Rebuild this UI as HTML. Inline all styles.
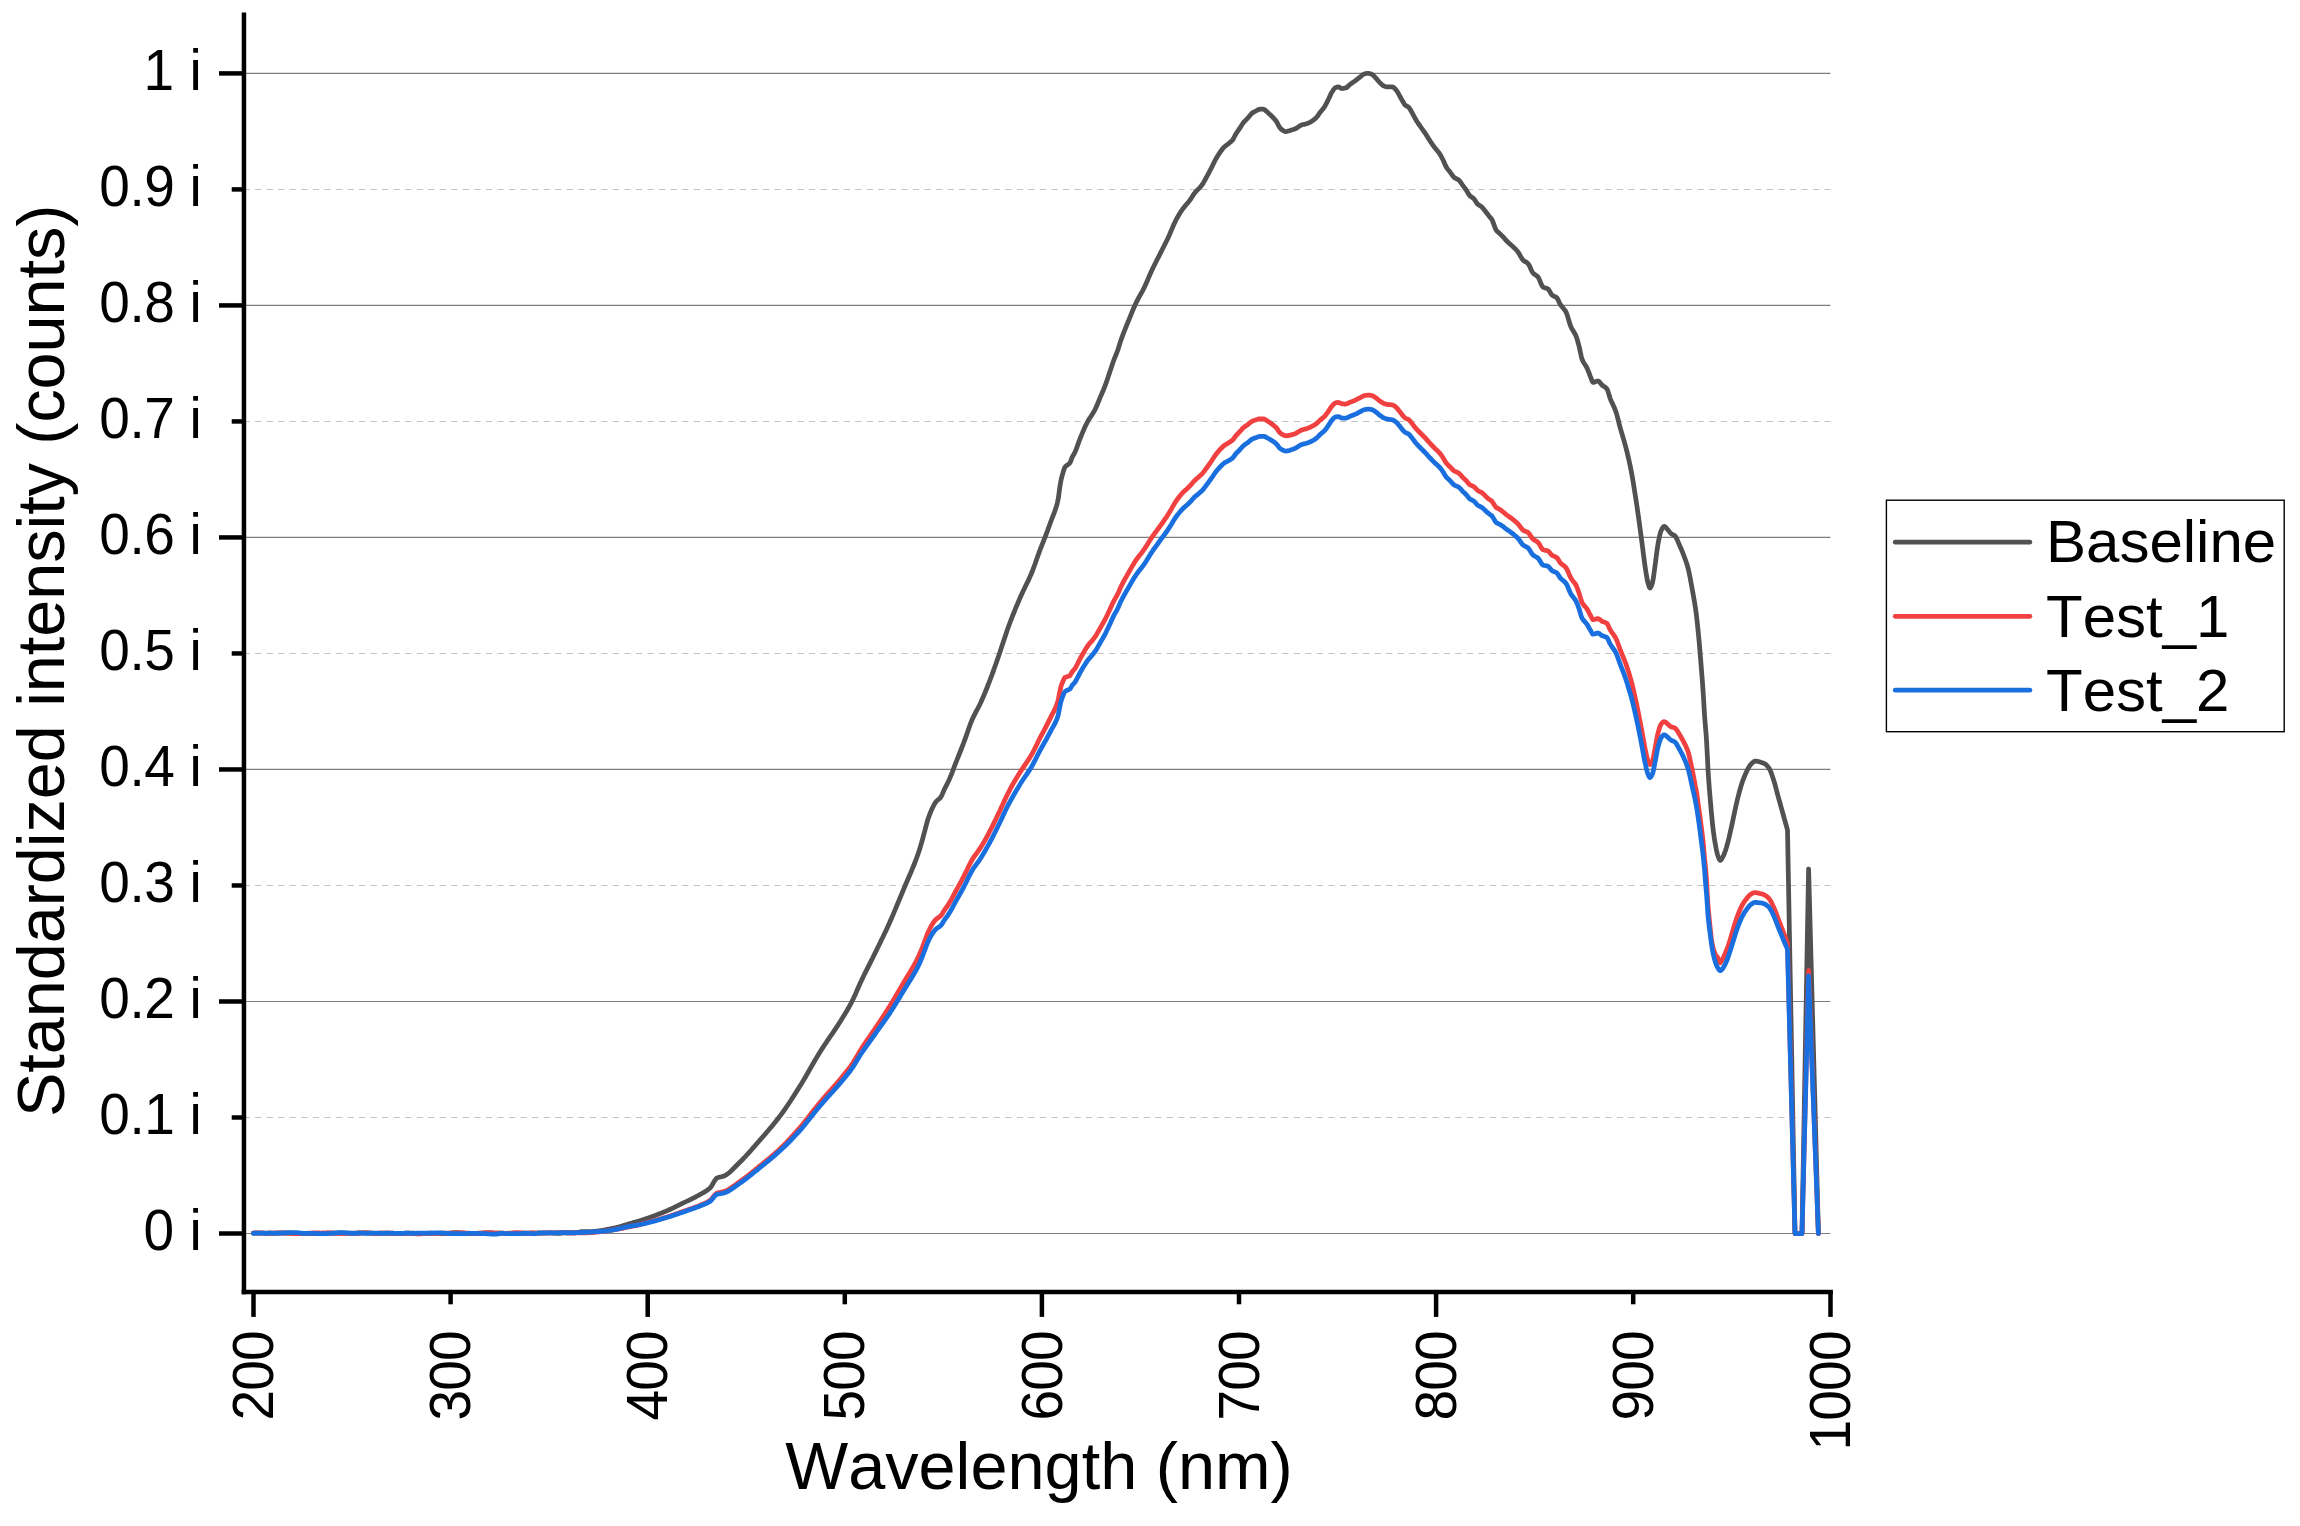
<!DOCTYPE html>
<html lang="en"><head><meta charset="utf-8"><title>Standardized intensity vs Wavelength</title>
<style>html,body{margin:0;padding:0;background:#fff;overflow:hidden;}svg{display:block;}text{font-family:"Liberation Sans",sans-serif;fill:#000;font-kerning:none;font-feature-settings:"kern" 0,"liga" 0;}</style></head><body>
<svg width="2300" height="1526" viewBox="0 0 2300 1526">
<rect width="2300" height="1526" fill="#fff"/>
<g fill="none">
<line x1="246.0" y1="73.40" x2="1830.4" y2="73.40" stroke="#7d7d7d" stroke-width="1.2"/>
<line x1="243.6" y1="189.41" x2="1830.4" y2="189.41" stroke="#c2c2c2" stroke-width="1.05" stroke-dasharray="6.2 5.34"/>
<line x1="246.0" y1="305.42" x2="1830.4" y2="305.42" stroke="#7d7d7d" stroke-width="1.2"/>
<line x1="243.6" y1="421.43" x2="1830.4" y2="421.43" stroke="#c2c2c2" stroke-width="1.05" stroke-dasharray="6.2 5.34"/>
<line x1="246.0" y1="537.44" x2="1830.4" y2="537.44" stroke="#7d7d7d" stroke-width="1.2"/>
<line x1="243.6" y1="653.45" x2="1830.4" y2="653.45" stroke="#c2c2c2" stroke-width="1.05" stroke-dasharray="6.2 5.34"/>
<line x1="246.0" y1="769.46" x2="1830.4" y2="769.46" stroke="#7d7d7d" stroke-width="1.2"/>
<line x1="243.6" y1="885.47" x2="1830.4" y2="885.47" stroke="#c2c2c2" stroke-width="1.05" stroke-dasharray="6.2 5.34"/>
<line x1="246.0" y1="1001.48" x2="1830.4" y2="1001.48" stroke="#7d7d7d" stroke-width="1.2"/>
<line x1="243.6" y1="1117.49" x2="1830.4" y2="1117.49" stroke="#c2c2c2" stroke-width="1.05" stroke-dasharray="6.2 5.34"/>
<line x1="246.0" y1="1233.50" x2="1830.4" y2="1233.50" stroke="#7d7d7d" stroke-width="1.2"/>
</g>
<g fill="none" stroke-width="4.75" stroke-linejoin="round" stroke-linecap="round">
<path stroke="#515151" d="M253.3,1233.2 L254.3,1233.1 L255.3,1233.1 L256.3,1233.1 L257.3,1233.1 L258.3,1233.1 L259.3,1233.1 L260.3,1233.1 L261.3,1233.0 L262.3,1233.0 L263.3,1233.0 L264.3,1233.0 L265.3,1233.0 L266.3,1233.0 L267.3,1233.0 L268.3,1233.0 L269.3,1233.1 L270.3,1233.1 L271.3,1233.2 L272.3,1233.2 L273.3,1233.3 L274.3,1233.3 L275.3,1233.3 L276.3,1233.3 L277.3,1233.2 L278.3,1233.2 L279.3,1233.1 L280.3,1233.1 L281.3,1233.0 L282.3,1232.9 L283.3,1232.9 L284.3,1232.9 L285.3,1232.9 L286.3,1232.9 L287.3,1232.9 L288.3,1233.0 L289.3,1233.1 L290.3,1233.1 L291.3,1233.2 L292.3,1233.3 L293.3,1233.3 L294.3,1233.3 L295.3,1233.4 L296.3,1233.4 L297.3,1233.4 L298.3,1233.5 L299.3,1233.5 L300.0,1233.5 L300.3,1233.4 L301.3,1233.4 L302.3,1233.4 L303.3,1233.4 L304.3,1233.3 L305.3,1233.4 L306.3,1233.4 L307.3,1233.4 L308.3,1233.5 L309.3,1233.5 L310.3,1233.5 L311.3,1233.6 L312.3,1233.6 L313.3,1233.6 L314.3,1233.6 L315.3,1233.6 L316.3,1233.6 L317.3,1233.6 L318.3,1233.5 L319.3,1233.4 L320.3,1233.4 L321.3,1233.3 L322.3,1233.2 L323.3,1233.1 L324.3,1233.1 L325.3,1233.1 L326.3,1233.0 L327.3,1233.0 L328.3,1233.1 L329.3,1233.1 L330.3,1233.1 L331.3,1233.1 L332.3,1233.2 L333.3,1233.2 L334.3,1233.2 L335.3,1233.2 L336.3,1233.2 L337.3,1233.2 L338.3,1233.2 L339.3,1233.2 L340.3,1233.2 L341.3,1233.2 L342.3,1233.2 L343.3,1233.2 L344.3,1233.2 L345.3,1233.1 L346.3,1233.1 L347.3,1233.1 L348.3,1233.1 L349.3,1233.1 L350.0,1233.1 L350.3,1233.1 L351.3,1233.1 L352.3,1233.1 L353.3,1233.1 L354.3,1233.1 L355.3,1233.0 L356.3,1233.0 L357.3,1232.9 L358.3,1232.9 L359.3,1232.9 L360.3,1232.8 L361.3,1232.8 L362.3,1232.8 L363.3,1232.8 L364.3,1232.8 L365.3,1232.8 L366.3,1232.9 L367.3,1232.9 L368.3,1233.0 L369.3,1233.0 L370.3,1233.1 L371.3,1233.2 L372.3,1233.3 L373.3,1233.3 L374.3,1233.4 L375.3,1233.4 L376.3,1233.4 L377.3,1233.4 L378.3,1233.3 L379.3,1233.3 L380.3,1233.2 L381.3,1233.2 L382.3,1233.1 L383.3,1233.1 L384.3,1233.1 L385.3,1233.1 L386.3,1233.1 L387.3,1233.2 L388.3,1233.2 L389.3,1233.3 L390.3,1233.3 L391.3,1233.4 L392.3,1233.4 L393.3,1233.4 L394.3,1233.5 L395.3,1233.5 L396.3,1233.5 L397.3,1233.5 L398.3,1233.4 L399.3,1233.4 L400.0,1233.4 L400.3,1233.4 L401.3,1233.4 L402.3,1233.3 L403.3,1233.3 L404.3,1233.3 L405.3,1233.2 L406.3,1233.2 L407.3,1233.1 L408.3,1233.1 L409.3,1233.0 L410.3,1233.0 L411.3,1233.0 L412.3,1233.1 L413.3,1233.1 L414.3,1233.2 L415.3,1233.3 L416.3,1233.3 L417.3,1233.4 L418.3,1233.4 L419.3,1233.5 L420.3,1233.5 L421.3,1233.5 L422.3,1233.5 L423.3,1233.5 L424.3,1233.4 L425.3,1233.4 L426.3,1233.3 L427.3,1233.3 L428.3,1233.3 L429.3,1233.2 L430.3,1233.2 L431.3,1233.2 L432.3,1233.2 L433.3,1233.3 L434.3,1233.3 L435.3,1233.3 L436.3,1233.4 L437.3,1233.4 L438.3,1233.4 L439.3,1233.5 L440.3,1233.5 L441.3,1233.5 L442.3,1233.5 L443.3,1233.5 L444.3,1233.5 L445.3,1233.5 L446.3,1233.4 L447.3,1233.4 L448.3,1233.3 L449.3,1233.2 L450.0,1233.1 L450.3,1233.0 L451.3,1232.9 L452.3,1232.8 L453.3,1232.7 L454.3,1232.7 L455.3,1232.6 L456.3,1232.6 L457.3,1232.6 L458.3,1232.7 L459.3,1232.8 L460.3,1232.8 L461.3,1232.9 L462.3,1233.0 L463.3,1233.1 L464.3,1233.2 L465.3,1233.3 L466.3,1233.4 L467.3,1233.5 L468.3,1233.5 L469.3,1233.6 L470.3,1233.6 L471.3,1233.6 L472.3,1233.5 L473.3,1233.5 L474.3,1233.4 L475.3,1233.3 L476.3,1233.3 L477.3,1233.3 L478.3,1233.2 L479.3,1233.2 L480.3,1233.2 L481.3,1233.1 L482.3,1233.1 L483.3,1233.0 L484.3,1232.9 L485.3,1232.9 L486.3,1232.8 L487.3,1232.8 L488.3,1232.8 L489.3,1232.8 L490.3,1232.8 L491.3,1232.9 L492.3,1232.9 L493.3,1233.0 L494.3,1233.0 L495.3,1233.0 L496.3,1233.1 L497.3,1233.1 L498.3,1233.1 L499.3,1233.1 L500.0,1233.1 L500.3,1233.2 L501.3,1233.2 L502.3,1233.2 L503.3,1233.3 L504.3,1233.3 L505.3,1233.3 L506.3,1233.3 L507.3,1233.3 L508.3,1233.3 L509.3,1233.3 L510.3,1233.3 L511.3,1233.3 L512.3,1233.4 L513.3,1233.4 L514.3,1233.4 L515.3,1233.4 L516.3,1233.5 L517.3,1233.5 L518.3,1233.4 L519.3,1233.4 L520.3,1233.4 L521.3,1233.3 L522.3,1233.3 L523.3,1233.2 L524.3,1233.2 L525.3,1233.1 L526.3,1233.1 L527.3,1233.1 L528.3,1233.1 L529.3,1233.1 L530.3,1233.1 L531.3,1233.1 L532.3,1233.1 L533.3,1233.1 L534.3,1233.0 L535.3,1233.0 L536.3,1233.0 L537.3,1233.0 L538.3,1232.9 L539.3,1232.9 L540.0,1232.9 L540.3,1233.0 L541.3,1233.0 L542.3,1233.0 L543.3,1233.0 L544.3,1233.0 L545.3,1233.0 L546.3,1233.0 L547.3,1233.0 L548.3,1232.9 L549.3,1232.9 L550.3,1232.9 L551.3,1232.9 L552.3,1233.0 L553.3,1233.0 L554.3,1233.1 L555.3,1233.1 L556.3,1233.2 L557.3,1233.3 L558.3,1233.3 L559.3,1233.3 L560.0,1233.3 L560.3,1233.3 L561.3,1233.2 L562.3,1233.1 L563.3,1233.0 L564.3,1232.9 L565.3,1232.8 L566.3,1232.7 L567.3,1232.7 L568.3,1232.6 L569.3,1232.7 L570.3,1232.7 L571.3,1232.7 L572.3,1232.7 L573.3,1232.7 L574.3,1232.7 L575.3,1232.6 L576.3,1232.6 L577.3,1232.4 L578.3,1232.3 L579.3,1232.1 L580.0,1232.0 L580.3,1231.8 L581.3,1231.7 L582.3,1231.6 L583.3,1231.5 L584.3,1231.5 L585.3,1231.5 L586.3,1231.6 L587.3,1231.6 L588.3,1231.6 L589.3,1231.6 L590.3,1231.6 L591.3,1231.6 L592.3,1231.5 L593.3,1231.5 L594.3,1231.4 L595.3,1231.3 L596.3,1231.2 L597.3,1231.1 L598.3,1231.0 L599.3,1230.8 L600.0,1230.7 L600.3,1230.7 L601.3,1230.5 L602.3,1230.3 L603.3,1230.2 L604.3,1230.0 L605.3,1229.8 L606.3,1229.6 L607.3,1229.4 L608.3,1229.2 L609.3,1229.0 L610.3,1228.8 L611.3,1228.6 L612.3,1228.4 L613.3,1228.2 L614.3,1228.0 L615.3,1227.8 L616.3,1227.6 L617.3,1227.3 L618.3,1227.1 L619.3,1226.8 L620.0,1226.6 L620.3,1226.5 L621.3,1226.2 L622.3,1225.9 L623.3,1225.6 L624.3,1225.3 L625.3,1225.0 L626.3,1224.7 L627.3,1224.4 L628.3,1224.1 L629.3,1223.8 L630.3,1223.5 L631.3,1223.2 L632.3,1222.9 L633.3,1222.6 L634.0,1222.4 L634.3,1222.3 L635.3,1222.1 L636.3,1221.8 L637.3,1221.5 L638.3,1221.2 L639.3,1220.9 L640.3,1220.6 L641.3,1220.3 L642.3,1219.9 L643.3,1219.6 L644.3,1219.3 L645.3,1218.9 L646.3,1218.6 L647.3,1218.2 L648.0,1218.0 L648.3,1217.9 L649.3,1217.6 L650.3,1217.2 L651.3,1216.9 L652.3,1216.5 L653.3,1216.1 L654.3,1215.7 L655.3,1215.4 L656.3,1215.0 L657.3,1214.6 L658.3,1214.2 L659.3,1213.8 L660.3,1213.5 L661.3,1213.1 L662.3,1212.7 L663.3,1212.3 L664.0,1212.0 L664.3,1211.9 L665.3,1211.5 L666.3,1211.1 L667.3,1210.6 L668.3,1210.2 L669.3,1209.7 L670.3,1209.3 L671.3,1208.8 L672.3,1208.3 L673.3,1207.9 L674.3,1207.4 L675.3,1206.9 L676.3,1206.4 L677.3,1205.9 L678.3,1205.4 L679.3,1204.9 L680.0,1204.5 L680.3,1204.4 L681.3,1203.9 L682.3,1203.4 L683.3,1202.9 L684.3,1202.5 L685.3,1202.0 L686.3,1201.5 L687.3,1201.0 L688.3,1200.6 L689.3,1200.1 L690.3,1199.6 L691.3,1199.1 L692.3,1198.6 L693.3,1198.1 L694.3,1197.6 L695.3,1197.1 L696.3,1196.5 L697.3,1196.0 L698.3,1195.5 L699.3,1194.9 L700.0,1194.5 L700.3,1194.3 L701.3,1193.8 L702.3,1193.2 L703.3,1192.7 L704.3,1192.1 L705.3,1191.5 L706.3,1190.9 L707.3,1190.2 L708.3,1189.4 L709.3,1188.6 L710.0,1188.0 L710.3,1187.7 L711.3,1186.4 L712.3,1184.8 L713.3,1183.0 L714.3,1181.2 L715.3,1179.7 L716.3,1178.5 L717.0,1178.0 L717.3,1177.9 L718.3,1177.5 L719.3,1177.2 L720.3,1177.0 L721.3,1176.8 L722.3,1176.5 L723.3,1176.3 L724.0,1176.0 L724.3,1175.9 L725.3,1175.4 L726.3,1174.8 L727.3,1174.1 L728.3,1173.4 L729.3,1172.6 L730.3,1171.7 L731.3,1170.8 L732.3,1169.8 L733.3,1168.8 L734.3,1167.8 L735.3,1166.8 L736.3,1165.8 L737.3,1164.7 L738.3,1163.7 L739.3,1162.7 L740.0,1162.0 L740.3,1161.7 L741.3,1160.7 L742.3,1159.7 L743.3,1158.7 L744.3,1157.6 L745.3,1156.6 L746.3,1155.5 L747.3,1154.4 L748.3,1153.3 L749.3,1152.2 L750.3,1151.1 L751.3,1150.0 L752.3,1148.8 L753.3,1147.7 L754.3,1146.6 L755.3,1145.4 L756.3,1144.3 L757.3,1143.1 L758.3,1142.0 L759.3,1140.8 L760.0,1140.0 L760.3,1139.7 L761.3,1138.5 L762.3,1137.4 L763.3,1136.2 L764.3,1135.1 L765.3,1133.9 L766.3,1132.8 L767.3,1131.6 L768.3,1130.5 L769.3,1129.3 L770.3,1128.1 L771.3,1126.9 L772.3,1125.7 L773.3,1124.5 L774.3,1123.3 L775.3,1122.1 L776.3,1120.8 L777.3,1119.5 L778.3,1118.2 L779.3,1116.9 L780.0,1116.0 L780.3,1115.6 L781.3,1114.2 L782.3,1112.9 L783.3,1111.5 L784.3,1110.1 L785.3,1108.6 L786.3,1107.2 L787.3,1105.7 L788.3,1104.2 L789.3,1102.7 L790.3,1101.2 L791.3,1099.7 L792.3,1098.1 L793.3,1096.6 L794.3,1095.0 L795.3,1093.4 L796.3,1091.9 L797.3,1090.3 L798.3,1088.7 L799.3,1087.1 L800.0,1086.0 L800.3,1085.5 L801.3,1083.9 L802.3,1082.3 L803.3,1080.6 L804.3,1078.9 L805.3,1077.2 L806.3,1075.5 L807.3,1073.7 L808.3,1072.0 L809.3,1070.2 L810.3,1068.5 L811.3,1066.7 L812.3,1065.0 L813.3,1063.3 L814.3,1061.5 L815.3,1059.8 L816.3,1058.1 L817.3,1056.4 L818.3,1054.8 L819.3,1053.1 L820.0,1052.0 L820.3,1051.5 L821.3,1049.9 L822.3,1048.4 L823.3,1046.9 L824.3,1045.3 L825.3,1043.8 L826.3,1042.4 L827.3,1040.9 L828.3,1039.4 L829.3,1037.9 L830.3,1036.5 L831.3,1035.0 L832.3,1033.6 L833.3,1032.1 L834.3,1030.6 L835.3,1029.1 L836.3,1027.6 L837.3,1026.1 L838.3,1024.6 L839.3,1023.0 L840.3,1021.4 L841.2,1020.0 L841.3,1019.8 L842.3,1018.2 L843.3,1016.6 L844.3,1015.0 L845.3,1013.3 L846.3,1011.7 L847.3,1010.0 L848.3,1008.2 L849.3,1006.5 L850.3,1004.6 L851.3,1002.8 L851.7,1002.0 L852.3,1000.8 L853.3,998.8 L854.3,996.6 L855.3,994.4 L856.3,992.1 L857.3,989.8 L858.3,987.6 L859.3,985.3 L860.3,983.0 L861.3,980.9 L861.7,980.0 L862.3,978.7 L863.3,976.7 L864.3,974.6 L865.3,972.6 L866.3,970.6 L867.3,968.6 L868.3,966.6 L869.3,964.6 L870.3,962.6 L871.3,960.7 L872.3,958.7 L873.3,956.7 L874.3,954.6 L875.3,952.6 L875.6,952.0 L876.3,950.6 L877.3,948.5 L878.3,946.5 L879.3,944.4 L880.3,942.4 L881.3,940.3 L882.3,938.3 L883.3,936.2 L884.3,934.1 L885.3,932.0 L886.3,929.9 L887.3,927.7 L888.3,925.5 L889.0,924.0 L889.3,923.3 L890.3,921.1 L891.3,918.8 L892.3,916.4 L893.3,914.1 L894.3,911.7 L895.3,909.3 L896.3,906.9 L897.3,904.5 L898.3,902.1 L899.3,899.7 L900.0,898.0 L900.3,897.3 L901.3,894.9 L902.3,892.5 L903.3,890.1 L904.3,887.7 L905.0,886.0 L905.3,885.3 L906.3,882.9 L907.3,880.6 L908.3,878.3 L909.3,876.0 L910.3,873.7 L911.3,871.3 L912.0,869.6 L912.3,868.9 L913.3,866.5 L914.3,864.0 L915.3,861.5 L916.3,858.9 L916.7,857.8 L917.3,856.1 L918.3,853.2 L919.3,850.2 L920.3,847.0 L920.6,846.0 L921.3,843.6 L922.3,840.1 L923.3,836.4 L924.3,832.7 L924.6,831.6 L925.3,829.0 L926.3,825.1 L927.3,821.4 L927.8,819.8 L928.3,818.3 L929.3,815.4 L930.3,812.8 L931.3,810.4 L931.8,809.3 L932.3,808.2 L933.3,806.2 L934.3,804.3 L935.3,802.7 L935.7,802.1 L936.3,801.4 L937.3,800.4 L938.3,799.6 L939.3,798.7 L940.3,797.7 L940.9,796.9 L941.3,796.3 L942.3,794.2 L943.3,791.8 L944.2,789.7 L944.3,789.5 L945.3,787.5 L946.3,785.6 L947.3,783.7 L948.2,781.8 L948.3,781.6 L949.3,779.4 L950.3,777.0 L951.3,774.6 L952.1,772.6 L952.3,772.1 L953.3,769.4 L954.0,767.5 L954.3,766.7 L955.3,764.1 L956.3,761.6 L957.3,759.0 L958.3,756.5 L959.3,754.0 L960.3,751.5 L961.3,749.0 L962.3,746.4 L963.3,743.8 L964.0,742.0 L964.3,741.2 L965.3,738.4 L966.3,735.6 L967.3,732.7 L968.3,729.8 L969.3,727.0 L970.3,724.3 L971.3,721.7 L972.0,720.0 L972.3,719.3 L973.3,717.1 L974.3,715.1 L975.3,713.1 L976.3,711.2 L977.3,709.4 L978.3,707.5 L979.3,705.5 L980.3,703.5 L981.0,702.0 L981.3,701.3 L982.3,699.1 L983.3,696.8 L984.3,694.4 L985.3,692.0 L986.3,689.5 L987.3,687.0 L988.3,684.4 L989.3,681.8 L990.0,680.0 L990.3,679.2 L991.3,676.6 L992.3,673.9 L993.3,671.1 L994.3,668.3 L995.3,665.5 L996.3,662.7 L997.3,659.8 L998.3,656.9 L999.3,654.0 L1000.0,652.0 L1000.3,651.1 L1001.3,648.1 L1002.3,645.1 L1003.3,642.0 L1004.3,638.9 L1005.3,635.9 L1006.3,632.9 L1007.3,630.0 L1008.0,628.0 L1008.3,627.2 L1009.3,624.5 L1010.3,621.8 L1011.3,619.2 L1012.3,616.6 L1013.3,614.1 L1014.3,611.6 L1015.3,609.2 L1016.3,606.7 L1017.3,604.3 L1018.3,602.0 L1019.3,599.6 L1020.0,598.0 L1020.3,597.3 L1021.3,595.1 L1022.3,592.9 L1023.3,590.8 L1024.3,588.7 L1025.3,586.6 L1026.3,584.6 L1027.3,582.5 L1028.3,580.4 L1029.3,578.2 L1030.3,576.0 L1031.3,573.7 L1032.0,572.0 L1032.3,571.3 L1033.3,568.7 L1034.3,566.0 L1035.3,563.2 L1036.3,560.3 L1037.3,557.5 L1038.3,554.6 L1039.3,551.9 L1040.0,550.0 L1040.3,549.2 L1041.3,546.7 L1042.3,544.2 L1043.3,541.7 L1044.3,539.2 L1045.0,537.4 L1045.3,536.6 L1046.3,533.9 L1047.3,531.2 L1048.3,528.5 L1049.3,525.7 L1050.3,523.0 L1051.3,520.3 L1051.4,520.0 L1052.3,517.7 L1053.3,515.1 L1054.3,512.6 L1055.3,509.7 L1055.7,508.5 L1056.3,506.6 L1057.3,503.1 L1058.3,498.6 L1059.3,491.0 L1059.6,488.8 L1060.3,484.2 L1061.0,480.3 L1061.3,478.9 L1062.3,475.1 L1062.9,473.1 L1063.3,471.7 L1064.3,468.5 L1064.9,467.2 L1065.3,466.7 L1066.3,465.8 L1067.3,465.1 L1067.5,464.9 L1068.3,464.3 L1069.3,463.5 L1070.1,462.6 L1070.3,462.3 L1071.3,459.6 L1072.1,457.4 L1072.3,457.0 L1073.3,455.2 L1074.3,453.6 L1074.7,452.8 L1075.3,451.4 L1076.3,448.9 L1077.3,446.2 L1078.3,443.4 L1079.3,440.6 L1079.9,439.0 L1080.3,438.0 L1081.3,435.6 L1082.3,433.2 L1082.6,432.5 L1083.3,430.9 L1084.3,428.5 L1085.3,426.3 L1085.8,425.2 L1086.3,424.2 L1087.3,422.2 L1088.3,420.3 L1088.5,420.0 L1089.3,418.7 L1090.3,417.3 L1091.3,415.8 L1091.5,415.5 L1092.3,414.2 L1093.3,412.6 L1094.3,410.9 L1094.8,410.0 L1095.3,409.0 L1096.3,406.8 L1097.3,404.5 L1098.3,402.1 L1099.3,399.6 L1100.3,397.2 L1101.3,394.9 L1102.3,392.5 L1103.3,390.2 L1104.3,387.7 L1105.2,385.4 L1105.3,385.1 L1106.3,382.4 L1107.3,379.5 L1108.3,376.6 L1109.3,373.6 L1110.3,370.6 L1111.3,367.5 L1112.3,364.4 L1113.2,361.8 L1113.3,361.5 L1114.3,358.9 L1115.3,356.4 L1116.3,354.0 L1117.3,351.4 L1117.8,350.0 L1118.3,348.5 L1119.3,345.3 L1120.3,342.1 L1121.0,340.0 L1121.3,339.1 L1122.3,336.4 L1123.3,333.7 L1124.3,331.2 L1125.3,328.7 L1126.3,326.2 L1127.3,323.7 L1128.0,322.0 L1128.3,321.3 L1129.3,318.8 L1130.3,316.3 L1131.3,313.8 L1132.3,311.4 L1133.3,309.0 L1134.3,306.7 L1135.3,304.5 L1136.0,303.0 L1136.3,302.4 L1137.3,300.4 L1138.3,298.5 L1139.3,296.7 L1140.3,294.9 L1141.3,293.1 L1142.3,291.3 L1143.3,289.4 L1144.0,288.0 L1144.3,287.4 L1145.3,285.2 L1146.3,283.0 L1147.3,280.7 L1148.3,278.4 L1149.3,276.0 L1150.3,273.7 L1151.3,271.5 L1152.0,270.0 L1152.3,269.4 L1153.3,267.3 L1154.3,265.3 L1155.3,263.3 L1156.3,261.3 L1157.3,259.3 L1158.3,257.4 L1159.3,255.4 L1160.0,254.0 L1160.3,253.4 L1161.3,251.4 L1162.3,249.5 L1163.3,247.5 L1164.3,245.5 L1165.3,243.5 L1166.3,241.5 L1167.3,239.5 L1168.0,238.0 L1168.3,237.4 L1169.3,235.1 L1170.3,232.8 L1171.3,230.4 L1172.3,228.1 L1173.3,225.7 L1174.3,223.5 L1175.3,221.4 L1176.0,220.0 L1176.3,219.4 L1177.3,217.6 L1178.3,215.8 L1179.3,214.2 L1180.3,212.6 L1181.3,211.0 L1182.0,210.0 L1182.3,209.6 L1183.3,208.2 L1184.3,207.0 L1185.3,205.8 L1186.3,204.6 L1187.3,203.4 L1188.3,202.2 L1189.3,200.9 L1190.0,200.0 L1190.3,199.6 L1191.3,198.1 L1192.3,196.5 L1193.3,194.9 L1194.3,193.5 L1194.6,193.1 L1195.3,192.2 L1196.3,191.1 L1197.3,190.1 L1198.3,189.1 L1199.3,188.1 L1200.3,187.0 L1201.3,185.9 L1201.8,185.2 L1202.3,184.5 L1203.3,182.9 L1204.3,181.1 L1205.3,179.3 L1206.3,177.5 L1206.4,177.3 L1207.3,175.7 L1208.3,173.8 L1209.3,171.9 L1210.3,170.0 L1211.3,168.1 L1211.6,167.5 L1212.3,166.1 L1213.3,164.0 L1214.3,161.9 L1215.3,160.0 L1215.5,159.6 L1216.3,158.2 L1217.3,156.5 L1218.3,154.9 L1219.3,153.4 L1219.5,153.1 L1220.3,151.9 L1221.3,150.5 L1222.3,149.2 L1223.3,147.9 L1224.0,147.2 L1224.3,146.9 L1225.3,146.1 L1226.3,145.3 L1227.3,144.6 L1228.3,143.8 L1228.6,143.6 L1229.3,143.0 L1230.3,142.2 L1231.3,141.4 L1232.3,140.4 L1232.6,140.0 L1233.3,138.9 L1234.3,137.0 L1235.3,135.0 L1235.8,134.1 L1236.3,133.3 L1237.3,131.8 L1238.3,130.4 L1239.3,128.9 L1239.8,128.2 L1240.3,127.4 L1241.3,125.8 L1242.3,124.3 L1243.3,122.8 L1243.7,122.3 L1244.3,121.6 L1245.3,120.6 L1246.3,119.6 L1247.3,118.6 L1247.6,118.3 L1248.3,117.5 L1249.3,116.3 L1250.3,115.0 L1251.3,113.9 L1252.2,113.1 L1252.3,113.0 L1253.3,112.3 L1254.3,111.8 L1255.3,111.2 L1256.2,110.8 L1256.3,110.8 L1257.3,110.2 L1258.3,109.7 L1259.3,109.3 L1260.1,109.2 L1260.3,109.2 L1261.3,109.2 L1262.3,109.2 L1263.3,109.2 L1263.4,109.2 L1264.3,109.5 L1265.3,110.2 L1266.3,111.2 L1267.3,112.1 L1268.3,113.0 L1269.3,113.9 L1270.3,114.8 L1271.3,115.8 L1271.9,116.4 L1272.3,116.8 L1273.3,117.8 L1274.3,118.9 L1275.3,120.0 L1276.3,121.3 L1276.5,121.6 L1277.3,123.0 L1278.3,125.0 L1279.3,126.9 L1279.7,127.5 L1280.3,128.2 L1281.3,129.3 L1282.3,130.0 L1282.4,130.1 L1283.3,130.7 L1284.3,131.2 L1285.3,131.5 L1285.6,131.5 L1286.3,131.5 L1287.3,131.3 L1288.3,131.0 L1289.3,130.7 L1290.2,130.4 L1290.3,130.4 L1291.3,130.1 L1292.3,129.8 L1293.3,129.5 L1294.3,129.1 L1295.2,128.8 L1295.3,128.8 L1296.3,128.3 L1297.3,127.6 L1298.3,126.9 L1299.3,126.2 L1300.3,125.6 L1301.3,125.1 L1301.8,124.9 L1302.3,124.7 L1303.3,124.5 L1304.3,124.3 L1305.3,124.1 L1306.3,123.8 L1307.0,123.6 L1307.3,123.5 L1308.3,123.1 L1309.3,122.6 L1310.3,122.1 L1311.3,121.5 L1312.3,120.9 L1313.3,120.2 L1314.3,119.4 L1315.3,118.6 L1316.2,117.7 L1316.3,117.6 L1317.3,116.4 L1318.3,115.0 L1319.3,113.5 L1320.1,112.4 L1320.3,112.1 L1321.3,110.9 L1322.3,109.7 L1323.3,108.5 L1324.3,107.1 L1324.7,106.5 L1325.3,105.5 L1326.3,103.6 L1327.3,101.6 L1328.3,99.5 L1328.7,98.7 L1329.3,97.4 L1330.3,95.2 L1331.3,93.1 L1331.9,92.1 L1332.3,91.5 L1333.3,89.9 L1334.3,88.6 L1335.2,87.9 L1335.3,87.8 L1336.3,87.4 L1337.3,87.0 L1338.2,86.9 L1338.3,86.9 L1339.3,87.3 L1340.3,87.9 L1341.3,88.4 L1341.8,88.5 L1342.3,88.5 L1343.3,88.4 L1344.3,88.2 L1345.3,88.0 L1345.7,87.9 L1346.3,87.7 L1347.3,87.0 L1348.3,86.0 L1349.3,85.1 L1350.3,84.2 L1351.3,83.5 L1352.3,82.8 L1353.3,82.1 L1354.3,81.5 L1355.3,80.7 L1355.5,80.6 L1356.3,80.0 L1357.3,79.2 L1358.3,78.4 L1359.3,77.6 L1360.3,76.8 L1360.8,76.4 L1361.3,76.0 L1362.3,75.2 L1363.3,74.4 L1364.0,74.1 L1364.3,74.0 L1365.3,73.7 L1366.3,73.5 L1367.3,73.3 L1368.0,73.3 L1368.3,73.3 L1369.3,73.5 L1370.3,73.8 L1371.3,74.1 L1371.9,74.4 L1372.3,74.6 L1373.3,75.4 L1374.3,76.4 L1375.3,77.5 L1375.8,78.0 L1376.3,78.5 L1377.3,79.7 L1378.3,80.9 L1379.3,82.1 L1379.8,82.6 L1380.3,83.1 L1381.3,84.1 L1382.3,85.0 L1383.3,85.7 L1383.7,85.9 L1384.3,86.1 L1385.3,86.5 L1386.3,86.8 L1387.3,86.9 L1387.6,86.9 L1388.3,86.9 L1389.3,86.9 L1390.3,86.9 L1391.3,86.9 L1392.2,86.9 L1392.3,86.9 L1393.3,87.3 L1394.3,88.0 L1395.3,89.1 L1396.2,90.1 L1396.3,90.2 L1397.3,91.6 L1398.3,93.4 L1399.3,95.2 L1399.4,95.4 L1400.3,97.0 L1401.3,98.8 L1402.3,100.6 L1402.7,101.3 L1403.3,102.3 L1404.3,104.0 L1405.3,105.2 L1406.3,105.9 L1407.3,106.4 L1408.3,107.0 L1408.6,107.2 L1409.3,108.0 L1410.3,109.5 L1411.3,111.3 L1411.9,112.4 L1412.3,113.1 L1413.3,115.0 L1414.3,116.9 L1415.3,118.7 L1415.8,119.6 L1416.3,120.4 L1417.3,122.0 L1418.3,123.5 L1419.3,124.9 L1420.3,126.3 L1421.1,127.5 L1421.3,127.8 L1422.3,129.2 L1423.3,130.6 L1424.3,132.0 L1425.3,133.4 L1425.7,134.0 L1426.3,134.9 L1427.3,136.5 L1428.3,138.2 L1429.3,139.8 L1429.8,140.6 L1430.3,141.4 L1431.3,142.8 L1432.3,144.3 L1433.3,145.7 L1434.3,147.1 L1434.4,147.2 L1435.3,148.3 L1436.3,149.5 L1437.3,150.7 L1438.3,151.9 L1439.3,153.2 L1439.7,153.8 L1440.3,154.8 L1441.3,156.6 L1442.3,158.5 L1442.9,159.7 L1443.3,160.5 L1444.3,162.8 L1445.3,165.1 L1446.2,166.9 L1446.3,167.1 L1447.3,168.6 L1448.3,169.9 L1449.3,171.1 L1450.1,172.1 L1450.3,172.4 L1451.3,173.8 L1452.3,175.3 L1453.3,176.6 L1454.1,177.4 L1454.3,177.6 L1455.3,178.2 L1456.3,178.7 L1457.3,179.1 L1458.3,179.7 L1458.7,180.0 L1459.3,180.6 L1460.3,181.8 L1461.3,183.3 L1462.3,184.8 L1462.6,185.2 L1463.3,186.1 L1464.3,187.4 L1465.3,188.7 L1465.9,189.5 L1466.3,190.1 L1467.3,191.8 L1468.3,193.6 L1469.3,195.1 L1469.8,195.7 L1470.3,196.2 L1471.3,196.9 L1472.3,197.5 L1473.3,198.2 L1473.7,198.6 L1474.3,199.3 L1475.3,200.8 L1476.3,202.4 L1477.3,203.8 L1477.7,204.2 L1478.3,204.7 L1479.3,205.3 L1480.3,205.9 L1481.3,206.6 L1481.6,206.8 L1482.3,207.5 L1483.3,208.6 L1484.3,209.9 L1485.3,211.1 L1485.5,211.4 L1486.3,212.4 L1487.3,213.8 L1488.3,215.1 L1489.3,216.4 L1489.5,216.7 L1490.3,217.6 L1491.3,218.7 L1492.1,219.9 L1492.3,220.3 L1493.3,222.9 L1494.1,225.2 L1494.3,225.7 L1495.3,228.4 L1496.0,229.8 L1496.3,230.2 L1497.3,231.4 L1498.3,232.3 L1499.3,233.1 L1499.9,233.7 L1500.3,234.1 L1501.3,235.1 L1502.3,236.1 L1503.2,237.0 L1503.3,237.1 L1504.3,238.3 L1505.3,239.4 L1505.8,240.0 L1506.3,240.5 L1507.3,241.5 L1508.3,242.5 L1509.3,243.4 L1510.3,244.3 L1511.3,245.2 L1512.3,246.1 L1513.3,247.0 L1514.3,247.9 L1515.3,248.9 L1516.3,250.0 L1517.3,251.1 L1518.0,252.0 L1518.3,252.4 L1519.3,254.0 L1520.3,255.8 L1521.3,257.6 L1522.3,259.2 L1523.0,260.0 L1523.3,260.3 L1524.3,261.1 L1525.3,261.7 L1526.3,262.2 L1527.3,263.0 L1528.0,263.6 L1528.3,264.0 L1529.3,265.6 L1530.3,267.8 L1531.3,270.0 L1532.3,272.0 L1533.0,273.0 L1533.3,273.3 L1534.3,274.2 L1535.3,274.9 L1536.3,275.5 L1537.3,276.3 L1538.0,277.0 L1538.3,277.4 L1539.3,279.3 L1540.3,281.8 L1541.3,284.3 L1542.3,286.2 L1543.0,287.0 L1543.3,287.2 L1544.3,287.6 L1545.3,288.0 L1546.3,288.2 L1547.3,288.6 L1548.0,289.0 L1548.3,289.2 L1549.3,290.6 L1550.3,292.4 L1551.3,294.2 L1552.0,295.0 L1552.3,295.2 L1553.3,295.9 L1554.3,296.4 L1555.3,296.8 L1556.3,297.4 L1557.0,298.0 L1557.3,298.4 L1558.3,300.3 L1559.3,302.6 L1560.0,304.0 L1560.3,304.5 L1561.3,305.9 L1562.3,307.0 L1563.3,308.2 L1564.3,309.4 L1565.3,310.8 L1566.0,312.0 L1566.3,312.6 L1567.3,315.3 L1568.3,318.6 L1569.3,322.0 L1570.3,325.2 L1571.0,327.0 L1571.3,327.6 L1572.3,329.5 L1573.3,331.1 L1574.3,332.7 L1575.3,334.5 L1576.0,336.0 L1576.3,336.8 L1577.3,339.8 L1578.3,343.4 L1579.0,346.0 L1579.3,347.2 L1580.3,351.9 L1581.3,356.6 L1582.0,359.0 L1582.3,359.8 L1583.3,361.9 L1584.3,363.5 L1585.3,365.0 L1586.3,366.7 L1587.0,368.0 L1587.3,368.7 L1588.3,371.1 L1589.3,373.7 L1590.3,376.3 L1591.0,378.0 L1591.3,378.8 L1592.3,381.5 L1593.0,382.4 L1593.3,382.4 L1594.3,382.2 L1595.3,381.8 L1596.3,381.4 L1597.3,381.1 L1598.0,381.0 L1598.3,381.0 L1599.3,381.7 L1600.3,382.9 L1601.3,384.3 L1602.0,385.0 L1602.3,385.3 L1603.3,386.0 L1604.3,386.6 L1605.3,387.3 L1606.3,388.2 L1607.0,389.0 L1607.3,389.5 L1608.3,392.3 L1609.3,395.8 L1610.0,398.0 L1610.3,398.8 L1611.3,401.2 L1612.3,403.3 L1613.3,405.4 L1614.3,407.6 L1615.3,410.1 L1616.0,412.0 L1616.3,412.9 L1617.3,416.4 L1618.3,420.3 L1619.3,424.3 L1620.0,427.0 L1620.3,428.1 L1621.3,431.6 L1622.3,434.9 L1623.3,438.3 L1624.3,441.7 L1625.3,445.3 L1626.0,448.0 L1626.3,449.2 L1627.3,453.2 L1628.3,457.4 L1629.3,461.8 L1630.3,466.5 L1631.0,470.0 L1631.3,471.5 L1632.3,477.0 L1633.3,482.9 L1634.3,489.1 L1635.3,495.5 L1636.0,500.0 L1636.3,502.0 L1637.3,508.7 L1638.3,515.7 L1639.3,522.9 L1640.0,528.0 L1640.3,530.2 L1641.3,537.7 L1642.3,545.2 L1642.4,546.0 L1643.3,553.1 L1644.3,561.0 L1645.0,566.0 L1645.3,568.0 L1646.3,574.5 L1647.3,580.1 L1648.0,583.0 L1648.3,584.0 L1649.3,587.1 L1650.0,588.0 L1650.3,587.9 L1651.3,586.2 L1652.3,583.3 L1652.4,583.0 L1653.3,578.5 L1654.3,571.2 L1655.0,566.0 L1655.3,563.9 L1656.3,556.0 L1657.3,548.4 L1658.0,544.0 L1658.3,542.4 L1659.3,537.2 L1660.3,533.0 L1661.0,531.0 L1661.3,530.4 L1662.3,528.3 L1663.3,526.9 L1664.2,526.4 L1664.3,526.4 L1665.3,526.9 L1666.3,527.9 L1667.3,529.2 L1668.0,530.0 L1668.3,530.3 L1669.3,531.6 L1670.3,532.9 L1671.0,533.6 L1671.3,533.8 L1672.3,534.4 L1673.3,534.9 L1674.3,535.4 L1675.0,536.0 L1675.3,536.3 L1676.3,537.9 L1677.3,540.1 L1678.3,542.4 L1679.0,544.0 L1679.3,544.7 L1680.3,546.9 L1681.3,549.2 L1682.3,551.6 L1683.3,554.2 L1684.0,556.0 L1684.3,556.8 L1685.3,559.5 L1686.3,562.3 L1687.3,565.5 L1688.0,568.0 L1688.3,569.2 L1689.3,573.6 L1690.3,578.7 L1691.3,584.2 L1692.0,588.0 L1692.3,589.6 L1693.3,595.1 L1694.3,600.8 L1695.3,607.1 L1696.0,612.0 L1696.3,614.3 L1697.3,622.9 L1698.3,632.7 L1699.0,640.0 L1699.3,643.3 L1700.3,655.2 L1701.0,664.0 L1701.3,667.7 L1702.3,680.4 L1703.0,690.0 L1703.3,694.6 L1704.3,711.4 L1704.6,716.0 L1705.3,724.8 L1706.3,737.0 L1706.5,740.0 L1707.3,755.2 L1708.0,769.5 L1708.3,774.3 L1709.3,788.1 L1710.3,800.0 L1711.3,811.6 L1712.3,822.1 L1712.9,827.5 L1713.3,830.7 L1714.3,838.1 L1715.3,844.3 L1715.6,845.9 L1716.3,849.5 L1717.3,853.9 L1717.8,855.5 L1718.3,856.9 L1719.3,859.4 L1720.2,860.4 L1720.3,860.4 L1721.3,859.6 L1722.3,857.9 L1723.3,856.0 L1724.3,853.8 L1725.3,851.0 L1726.3,847.9 L1727.3,844.5 L1728.3,840.7 L1729.3,836.5 L1730.3,832.0 L1731.3,827.5 L1732.3,823.0 L1733.3,818.3 L1734.3,813.5 L1735.3,808.8 L1736.3,804.2 L1737.3,800.0 L1738.3,796.0 L1739.3,792.1 L1740.3,788.5 L1741.3,785.1 L1741.7,783.9 L1742.3,782.1 L1743.3,779.3 L1744.3,776.7 L1745.3,774.4 L1745.7,773.5 L1746.3,772.2 L1747.3,770.1 L1748.3,768.2 L1749.3,766.4 L1750.3,765.0 L1750.9,764.3 L1751.3,763.9 L1752.3,762.9 L1753.3,762.0 L1754.3,761.4 L1755.3,761.1 L1755.4,761.1 L1756.3,761.2 L1757.3,761.3 L1758.3,761.5 L1759.3,761.8 L1760.0,762.0 L1760.3,762.1 L1761.3,762.4 L1762.3,762.7 L1763.3,763.1 L1764.3,763.5 L1764.6,763.7 L1765.3,764.1 L1766.3,764.9 L1767.3,766.0 L1768.3,767.2 L1769.1,768.3 L1769.3,768.6 L1770.3,770.6 L1771.3,773.1 L1772.3,776.0 L1773.0,778.0 L1773.3,778.9 L1774.3,782.1 L1775.3,785.7 L1776.3,789.5 L1777.3,793.3 L1778.3,797.0 L1778.7,798.5 L1779.3,800.7 L1780.3,804.2 L1781.3,807.8 L1782.3,811.4 L1783.3,815.0 L1784.0,817.5 L1784.3,818.6 L1785.3,822.1 L1786.3,825.7 L1787.3,829.3 L1787.5,830.0 L1795.0,1233.5 L1802.0,1233.5 L1808.6,869.0 L1818.4,1233.5"/>
<path stroke="#F14040" d="M253.3,1233.0 L254.3,1232.9 L255.3,1232.9 L256.3,1232.9 L257.3,1232.9 L258.3,1232.9 L259.3,1232.9 L260.3,1232.9 L261.3,1233.0 L262.3,1233.1 L263.3,1233.2 L264.3,1233.2 L265.3,1233.3 L266.3,1233.3 L267.3,1233.3 L268.3,1233.3 L269.3,1233.2 L270.3,1233.2 L271.3,1233.1 L272.3,1233.1 L273.3,1233.0 L274.3,1233.0 L275.3,1232.9 L276.3,1232.9 L277.3,1232.8 L278.3,1232.8 L279.3,1232.8 L280.3,1232.9 L281.3,1232.9 L282.3,1233.0 L283.3,1233.0 L284.3,1233.1 L285.3,1233.2 L286.3,1233.3 L287.3,1233.3 L288.3,1233.4 L289.3,1233.4 L290.3,1233.4 L291.3,1233.4 L292.3,1233.4 L293.3,1233.5 L294.3,1233.5 L295.3,1233.5 L296.3,1233.5 L297.3,1233.5 L298.3,1233.5 L299.3,1233.5 L300.0,1233.5 L300.3,1233.4 L301.3,1233.4 L302.3,1233.4 L303.3,1233.4 L304.3,1233.4 L305.3,1233.3 L306.3,1233.3 L307.3,1233.3 L308.3,1233.2 L309.3,1233.2 L310.3,1233.1 L311.3,1233.0 L312.3,1233.0 L313.3,1232.9 L314.3,1232.9 L315.3,1232.9 L316.3,1232.8 L317.3,1232.9 L318.3,1232.9 L319.3,1232.9 L320.3,1233.0 L321.3,1233.0 L322.3,1233.0 L323.3,1233.0 L324.3,1233.0 L325.3,1233.0 L326.3,1233.0 L327.3,1232.9 L328.3,1232.9 L329.3,1232.9 L330.3,1232.9 L331.3,1233.0 L332.3,1233.0 L333.3,1233.1 L334.3,1233.2 L335.3,1233.2 L336.3,1233.3 L337.3,1233.4 L338.3,1233.4 L339.3,1233.4 L340.3,1233.4 L341.3,1233.5 L342.3,1233.5 L343.3,1233.4 L344.3,1233.4 L345.3,1233.4 L346.3,1233.4 L347.3,1233.3 L348.3,1233.3 L349.3,1233.3 L350.0,1233.3 L350.3,1233.3 L351.3,1233.3 L352.3,1233.3 L353.3,1233.4 L354.3,1233.4 L355.3,1233.4 L356.3,1233.4 L357.3,1233.4 L358.3,1233.3 L359.3,1233.2 L360.3,1233.1 L361.3,1233.0 L362.3,1232.9 L363.3,1232.9 L364.3,1232.8 L365.3,1232.8 L366.3,1232.8 L367.3,1232.9 L368.3,1232.9 L369.3,1233.0 L370.3,1233.1 L371.3,1233.1 L372.3,1233.2 L373.3,1233.3 L374.3,1233.3 L375.3,1233.3 L376.3,1233.3 L377.3,1233.3 L378.3,1233.3 L379.3,1233.2 L380.3,1233.2 L381.3,1233.1 L382.3,1233.1 L383.3,1233.1 L384.3,1233.1 L385.3,1233.1 L386.3,1233.1 L387.3,1233.1 L388.3,1233.1 L389.3,1233.1 L390.3,1233.1 L391.3,1233.2 L392.3,1233.2 L393.3,1233.3 L394.3,1233.4 L395.3,1233.5 L396.3,1233.6 L397.3,1233.6 L398.3,1233.7 L399.3,1233.6 L400.0,1233.6 L400.3,1233.6 L401.3,1233.5 L402.3,1233.5 L403.3,1233.4 L404.3,1233.4 L405.3,1233.4 L406.3,1233.4 L407.3,1233.4 L408.3,1233.4 L409.3,1233.4 L410.3,1233.4 L411.3,1233.4 L412.3,1233.4 L413.3,1233.5 L414.3,1233.6 L415.3,1233.7 L416.3,1233.8 L417.3,1233.8 L418.3,1233.8 L419.3,1233.8 L420.3,1233.8 L421.3,1233.7 L422.3,1233.6 L423.3,1233.5 L424.3,1233.4 L425.3,1233.4 L426.3,1233.4 L427.3,1233.4 L428.3,1233.4 L429.3,1233.4 L430.3,1233.4 L431.3,1233.4 L432.3,1233.4 L433.3,1233.4 L434.3,1233.4 L435.3,1233.4 L436.3,1233.3 L437.3,1233.3 L438.3,1233.3 L439.3,1233.3 L440.3,1233.3 L441.3,1233.2 L442.3,1233.2 L443.3,1233.2 L444.3,1233.2 L445.3,1233.2 L446.3,1233.2 L447.3,1233.3 L448.3,1233.2 L449.3,1233.2 L450.0,1233.2 L450.3,1233.2 L451.3,1233.2 L452.3,1233.2 L453.3,1233.2 L454.3,1233.1 L455.3,1233.1 L456.3,1233.0 L457.3,1232.9 L458.3,1232.9 L459.3,1232.8 L460.3,1232.8 L461.3,1232.8 L462.3,1232.8 L463.3,1232.8 L464.3,1232.9 L465.3,1233.0 L466.3,1233.0 L467.3,1233.1 L468.3,1233.2 L469.3,1233.2 L470.3,1233.3 L471.3,1233.3 L472.3,1233.4 L473.3,1233.4 L474.3,1233.4 L475.3,1233.5 L476.3,1233.5 L477.3,1233.5 L478.3,1233.5 L479.3,1233.4 L480.3,1233.3 L481.3,1233.2 L482.3,1233.1 L483.3,1232.9 L484.3,1232.8 L485.3,1232.8 L486.3,1232.7 L487.3,1232.7 L488.3,1232.6 L489.3,1232.7 L490.3,1232.7 L491.3,1232.8 L492.3,1232.9 L493.3,1233.0 L494.3,1233.0 L495.3,1233.1 L496.3,1233.2 L497.3,1233.2 L498.3,1233.2 L499.3,1233.2 L500.0,1233.2 L500.3,1233.2 L501.3,1233.2 L502.3,1233.2 L503.3,1233.2 L504.3,1233.3 L505.3,1233.3 L506.3,1233.3 L507.3,1233.3 L508.3,1233.2 L509.3,1233.2 L510.3,1233.1 L511.3,1233.0 L512.3,1232.9 L513.3,1232.8 L514.3,1232.7 L515.3,1232.6 L516.3,1232.6 L517.3,1232.5 L518.3,1232.6 L519.3,1232.6 L520.3,1232.7 L521.3,1232.8 L522.3,1232.9 L523.3,1233.0 L524.3,1233.1 L525.3,1233.2 L526.3,1233.2 L527.3,1233.2 L528.3,1233.1 L529.3,1233.1 L530.3,1233.0 L531.3,1232.9 L532.3,1232.9 L533.3,1232.9 L534.3,1232.9 L535.3,1233.0 L536.3,1233.0 L537.3,1233.0 L538.3,1233.1 L539.3,1233.1 L540.0,1233.1 L540.3,1233.0 L541.3,1233.0 L542.3,1233.0 L543.3,1232.9 L544.3,1232.9 L545.3,1232.9 L546.3,1232.9 L547.3,1232.9 L548.3,1232.9 L549.3,1232.9 L550.3,1232.9 L551.3,1232.9 L552.3,1232.9 L553.3,1232.9 L554.3,1232.8 L555.3,1232.8 L556.3,1232.7 L557.3,1232.7 L558.3,1232.6 L559.3,1232.6 L560.0,1232.5 L560.3,1232.6 L561.3,1232.6 L562.3,1232.6 L563.3,1232.7 L564.3,1232.7 L565.3,1232.8 L566.3,1232.9 L567.3,1233.0 L568.3,1233.0 L569.3,1233.0 L570.3,1233.1 L571.3,1233.1 L572.3,1233.1 L573.3,1233.0 L574.3,1233.0 L575.3,1233.0 L576.3,1232.9 L577.3,1232.9 L578.3,1232.9 L579.3,1232.8 L580.0,1232.8 L580.3,1232.8 L581.3,1232.8 L582.3,1232.8 L583.3,1232.8 L584.3,1232.8 L585.3,1232.8 L586.3,1232.8 L587.3,1232.8 L588.3,1232.7 L589.3,1232.7 L590.3,1232.7 L591.3,1232.6 L592.3,1232.6 L593.3,1232.5 L594.3,1232.4 L595.3,1232.3 L596.3,1232.1 L597.3,1232.0 L598.3,1231.9 L599.3,1231.8 L600.0,1231.7 L600.3,1231.6 L601.3,1231.5 L602.3,1231.4 L603.3,1231.3 L604.3,1231.2 L605.3,1231.1 L606.3,1230.9 L607.3,1230.8 L608.3,1230.6 L609.3,1230.5 L610.3,1230.3 L611.3,1230.1 L612.3,1230.0 L613.3,1229.8 L614.3,1229.6 L615.3,1229.5 L616.3,1229.3 L617.3,1229.1 L618.3,1229.0 L619.3,1228.8 L620.0,1228.7 L620.3,1228.6 L621.3,1228.5 L622.3,1228.3 L623.3,1228.1 L624.3,1227.8 L625.3,1227.6 L626.3,1227.4 L627.3,1227.2 L628.3,1227.0 L629.3,1226.8 L630.3,1226.6 L631.3,1226.4 L632.3,1226.2 L633.3,1226.0 L634.0,1225.9 L634.3,1225.9 L635.3,1225.6 L636.3,1225.4 L637.3,1225.1 L638.3,1224.9 L639.3,1224.6 L640.3,1224.3 L641.3,1224.0 L642.3,1223.7 L643.3,1223.5 L644.3,1223.2 L645.3,1222.9 L646.3,1222.7 L647.3,1222.4 L648.0,1222.2 L648.3,1222.2 L649.3,1221.9 L650.3,1221.7 L651.3,1221.4 L652.3,1221.2 L653.3,1220.9 L654.3,1220.7 L655.3,1220.4 L656.3,1220.1 L657.3,1219.8 L658.3,1219.5 L659.3,1219.3 L660.3,1219.0 L661.3,1218.7 L662.3,1218.4 L663.3,1218.1 L664.0,1217.9 L664.3,1217.8 L665.3,1217.5 L666.3,1217.2 L667.3,1216.9 L668.3,1216.6 L669.3,1216.2 L670.3,1215.9 L671.3,1215.6 L672.3,1215.2 L673.3,1214.9 L674.3,1214.5 L675.3,1214.2 L676.3,1213.8 L677.3,1213.5 L678.3,1213.1 L679.3,1212.7 L680.0,1212.5 L680.3,1212.4 L681.3,1212.0 L682.3,1211.7 L683.3,1211.3 L684.3,1211.0 L685.3,1210.7 L686.3,1210.3 L687.3,1210.0 L688.3,1209.6 L689.3,1209.3 L690.3,1208.9 L691.3,1208.6 L692.3,1208.2 L693.3,1207.9 L694.3,1207.5 L695.3,1207.1 L696.3,1206.7 L697.3,1206.4 L698.3,1206.0 L699.3,1205.6 L700.0,1205.3 L700.3,1205.1 L701.3,1204.7 L702.3,1204.3 L703.3,1203.9 L704.3,1203.5 L705.3,1203.0 L706.3,1202.6 L707.3,1202.1 L708.3,1201.5 L709.3,1200.9 L710.0,1200.5 L710.3,1200.2 L711.3,1199.3 L712.3,1198.1 L713.3,1196.8 L714.3,1195.5 L715.3,1194.4 L716.3,1193.5 L717.0,1193.1 L717.3,1193.0 L718.3,1192.7 L719.3,1192.5 L720.3,1192.3 L721.3,1192.1 L722.3,1191.9 L723.3,1191.7 L724.0,1191.5 L724.3,1191.4 L725.3,1191.0 L726.3,1190.6 L727.3,1190.1 L728.3,1189.6 L729.3,1189.0 L730.3,1188.4 L731.3,1187.7 L732.3,1187.0 L733.3,1186.3 L734.3,1185.6 L735.3,1184.9 L736.3,1184.1 L737.3,1183.4 L738.3,1182.6 L739.3,1181.9 L740.0,1181.4 L740.3,1181.2 L741.3,1180.5 L742.3,1179.8 L743.3,1179.1 L744.3,1178.3 L745.3,1177.6 L746.3,1176.8 L747.3,1176.1 L748.3,1175.3 L749.3,1174.5 L750.3,1173.7 L751.3,1172.9 L752.3,1172.1 L753.3,1171.3 L754.3,1170.5 L755.3,1169.7 L756.3,1168.9 L757.3,1168.0 L758.3,1167.2 L759.3,1166.4 L760.0,1165.8 L760.3,1165.6 L761.3,1164.8 L762.3,1164.0 L763.3,1163.2 L764.3,1162.4 L765.3,1161.5 L766.3,1160.7 L767.3,1159.9 L768.3,1159.1 L769.3,1158.3 L770.3,1157.4 L771.3,1156.6 L772.3,1155.7 L773.3,1154.9 L774.3,1154.0 L775.3,1153.1 L776.3,1152.2 L777.3,1151.3 L778.3,1150.4 L779.3,1149.5 L780.0,1148.8 L780.3,1148.5 L781.3,1147.6 L782.3,1146.6 L783.3,1145.6 L784.3,1144.6 L785.3,1143.6 L786.3,1142.6 L787.3,1141.5 L788.3,1140.4 L789.3,1139.4 L790.3,1138.3 L791.3,1137.2 L792.3,1136.1 L793.3,1135.0 L794.3,1133.9 L795.3,1132.8 L796.3,1131.7 L797.3,1130.5 L798.3,1129.4 L799.3,1128.3 L800.0,1127.5 L800.3,1127.1 L801.3,1125.9 L802.3,1124.7 L803.3,1123.5 L804.3,1122.3 L805.3,1121.0 L806.3,1119.7 L807.3,1118.5 L808.3,1117.2 L809.3,1115.9 L810.3,1114.6 L811.3,1113.3 L812.3,1112.1 L813.3,1110.8 L814.3,1109.5 L815.3,1108.3 L816.3,1107.0 L817.3,1105.8 L818.3,1104.5 L819.3,1103.3 L820.0,1102.5 L820.3,1102.2 L821.3,1101.0 L822.3,1099.8 L823.3,1098.6 L824.3,1097.4 L825.3,1096.3 L826.3,1095.1 L827.3,1094.0 L828.3,1092.9 L829.3,1091.8 L830.3,1090.7 L831.3,1089.5 L832.3,1088.4 L833.3,1087.3 L834.3,1086.2 L835.3,1085.0 L836.3,1083.9 L837.3,1082.7 L838.3,1081.5 L839.3,1080.4 L840.3,1079.2 L841.2,1078.1 L841.3,1078.0 L842.3,1076.7 L843.3,1075.5 L844.3,1074.3 L845.3,1073.1 L846.3,1071.8 L847.3,1070.6 L848.3,1069.3 L849.3,1067.9 L850.3,1066.6 L851.3,1065.2 L851.7,1064.6 L852.3,1063.7 L853.3,1062.2 L854.3,1060.6 L855.3,1059.0 L856.3,1057.3 L857.3,1055.6 L858.3,1053.9 L859.3,1052.2 L860.3,1050.5 L861.3,1048.9 L861.7,1048.3 L862.3,1047.4 L863.3,1045.9 L864.3,1044.4 L865.3,1042.9 L866.3,1041.4 L867.3,1039.9 L868.3,1038.5 L869.3,1037.0 L870.3,1035.6 L871.3,1034.1 L872.3,1032.6 L873.3,1031.2 L874.3,1029.7 L875.3,1028.2 L875.6,1027.7 L876.3,1026.7 L877.3,1025.2 L878.3,1023.7 L879.3,1022.2 L880.3,1020.7 L881.3,1019.2 L882.3,1017.7 L883.3,1016.2 L884.3,1014.7 L885.3,1013.2 L886.3,1011.6 L887.3,1010.1 L888.3,1008.5 L889.0,1007.4 L889.3,1006.9 L890.3,1005.3 L891.3,1003.6 L892.3,1002.0 L893.3,1000.3 L894.3,998.6 L895.3,996.9 L896.3,995.2 L897.3,993.5 L898.3,991.8 L899.3,990.1 L900.0,988.9 L900.3,988.4 L901.3,986.7 L902.3,985.0 L903.3,983.2 L904.3,981.5 L905.0,980.4 L905.3,979.9 L906.3,978.2 L907.3,976.5 L908.3,974.9 L909.3,973.3 L910.3,971.6 L911.3,969.9 L912.0,968.7 L912.3,968.2 L913.3,966.5 L914.3,964.7 L915.3,963.0 L916.3,961.1 L916.7,960.3 L917.3,959.1 L918.3,957.0 L919.3,954.8 L920.3,952.5 L920.6,951.8 L921.3,950.1 L922.3,947.6 L923.3,944.9 L924.3,942.2 L924.6,941.5 L925.3,939.6 L926.3,936.8 L927.3,934.1 L927.8,933.0 L928.3,931.8 L929.3,929.7 L930.3,927.7 L931.3,925.9 L931.8,925.1 L932.3,924.3 L933.3,922.7 L934.3,921.3 L935.3,920.0 L935.7,919.6 L936.3,919.1 L937.3,918.3 L938.3,917.6 L939.3,917.0 L940.3,916.2 L940.9,915.6 L941.3,915.2 L942.3,913.7 L943.3,911.9 L944.2,910.4 L944.3,910.3 L945.3,908.9 L946.3,907.5 L947.3,906.1 L948.2,904.8 L948.3,904.6 L949.3,903.0 L950.3,901.3 L951.3,899.6 L952.1,898.1 L952.3,897.8 L953.3,895.8 L954.0,894.5 L954.3,893.9 L955.3,892.0 L956.3,890.2 L957.3,888.4 L958.3,886.5 L959.3,884.7 L960.3,882.9 L961.3,881.1 L962.3,879.2 L963.3,877.3 L964.0,876.0 L964.3,875.4 L965.3,873.4 L966.3,871.3 L967.3,869.2 L968.3,867.1 L969.3,865.1 L970.3,863.1 L971.3,861.2 L972.0,860.0 L972.3,859.5 L973.3,857.9 L974.3,856.4 L975.3,855.0 L976.3,853.7 L977.3,852.3 L978.3,850.9 L979.3,849.5 L980.3,848.0 L981.0,846.9 L981.3,846.4 L982.3,844.8 L983.3,843.1 L984.3,841.4 L985.3,839.6 L986.3,837.8 L987.3,835.9 L988.3,834.1 L989.3,832.2 L990.0,830.8 L990.3,830.3 L991.3,828.3 L992.3,826.4 L993.3,824.4 L994.3,822.3 L995.3,820.3 L996.3,818.2 L997.3,816.1 L998.3,814.0 L999.3,811.9 L1000.0,810.4 L1000.3,809.8 L1001.3,807.6 L1002.3,805.5 L1003.3,803.3 L1004.3,801.1 L1005.3,798.9 L1006.3,796.8 L1007.3,794.7 L1008.0,793.3 L1008.3,792.7 L1009.3,790.8 L1010.3,788.9 L1011.3,787.0 L1012.3,785.2 L1013.3,783.4 L1014.3,781.7 L1015.3,780.0 L1016.3,778.3 L1017.3,776.7 L1018.3,775.1 L1019.3,773.5 L1020.0,772.4 L1020.3,771.9 L1021.3,770.4 L1022.3,768.9 L1023.3,767.4 L1024.3,765.9 L1025.3,764.4 L1026.3,763.0 L1027.3,761.5 L1028.3,759.9 L1029.3,758.4 L1030.3,756.8 L1031.3,755.1 L1032.0,753.9 L1032.3,753.4 L1033.3,751.5 L1034.3,749.6 L1035.3,747.5 L1036.3,745.5 L1037.3,743.4 L1038.3,741.3 L1039.3,739.3 L1040.0,737.9 L1040.3,737.3 L1041.3,735.5 L1042.3,733.6 L1043.3,731.8 L1044.3,730.0 L1045.0,728.7 L1045.3,728.1 L1046.3,726.1 L1047.3,724.1 L1048.3,722.1 L1049.3,720.1 L1050.3,718.1 L1051.3,716.1 L1051.4,715.9 L1052.3,714.2 L1053.3,712.3 L1054.3,710.4 L1055.3,708.2 L1055.7,707.3 L1056.3,705.8 L1057.3,703.1 L1058.3,699.8 L1059.3,694.2 L1059.6,692.6 L1060.3,689.2 L1061.0,686.3 L1061.3,685.4 L1062.3,682.8 L1062.9,681.4 L1063.3,680.5 L1064.3,678.3 L1064.9,677.5 L1065.3,677.2 L1066.3,676.9 L1067.3,676.6 L1067.5,676.6 L1068.3,676.3 L1069.3,676.0 L1070.1,675.5 L1070.3,675.2 L1071.3,673.4 L1072.1,671.9 L1072.3,671.7 L1073.3,670.5 L1074.3,669.4 L1074.7,668.9 L1075.3,668.0 L1076.3,666.2 L1077.3,664.3 L1078.3,662.2 L1079.3,660.2 L1079.9,659.0 L1080.3,658.3 L1081.3,656.5 L1082.3,654.8 L1082.6,654.3 L1083.3,653.1 L1084.3,651.3 L1085.3,649.6 L1085.8,648.8 L1086.3,648.0 L1087.3,646.5 L1088.3,645.1 L1088.5,644.8 L1089.3,643.8 L1090.3,642.7 L1091.3,641.6 L1091.5,641.3 L1092.3,640.4 L1093.3,639.2 L1094.3,637.9 L1094.8,637.2 L1095.3,636.5 L1096.3,634.9 L1097.3,633.2 L1098.3,631.4 L1099.3,629.6 L1100.3,627.9 L1101.3,626.1 L1102.3,624.4 L1103.3,622.7 L1104.3,620.9 L1105.2,619.2 L1105.3,619.0 L1106.3,617.0 L1107.3,615.0 L1108.3,612.8 L1109.3,610.7 L1110.3,608.5 L1111.3,606.3 L1112.3,604.1 L1113.2,602.2 L1113.3,602.0 L1114.3,600.1 L1115.3,598.3 L1116.3,596.6 L1117.3,594.7 L1117.8,593.7 L1118.3,592.7 L1119.3,590.4 L1120.3,588.0 L1121.0,586.5 L1121.3,585.9 L1122.3,584.0 L1123.3,582.1 L1124.3,580.2 L1125.3,578.4 L1126.3,576.7 L1127.3,574.9 L1128.0,573.7 L1128.3,573.2 L1129.3,571.4 L1130.3,569.6 L1131.3,567.9 L1132.3,566.1 L1133.3,564.5 L1134.3,562.8 L1135.3,561.2 L1136.0,560.2 L1136.3,559.7 L1137.3,558.3 L1138.3,557.0 L1139.3,555.7 L1140.3,554.4 L1141.3,553.2 L1142.3,551.9 L1143.3,550.5 L1144.0,549.5 L1144.3,549.1 L1145.3,547.6 L1146.3,546.1 L1147.3,544.5 L1148.3,542.9 L1149.3,541.3 L1150.3,539.7 L1151.3,538.2 L1152.0,537.1 L1152.3,536.7 L1153.3,535.3 L1154.3,533.9 L1155.3,532.5 L1156.3,531.2 L1157.3,529.8 L1158.3,528.5 L1159.3,527.1 L1160.0,526.1 L1160.3,525.7 L1161.3,524.4 L1162.3,523.0 L1163.3,521.6 L1164.3,520.1 L1165.3,518.7 L1166.3,517.2 L1167.3,515.7 L1168.0,514.6 L1168.3,514.1 L1169.3,512.5 L1170.3,510.8 L1171.3,509.1 L1172.3,507.3 L1173.3,505.6 L1174.3,503.9 L1175.3,502.2 L1176.0,501.2 L1176.3,500.8 L1177.3,499.4 L1178.3,498.0 L1179.3,496.7 L1180.3,495.5 L1181.3,494.3 L1182.0,493.5 L1182.3,493.2 L1183.3,492.1 L1184.3,491.2 L1185.3,490.3 L1186.3,489.4 L1187.3,488.5 L1188.3,487.5 L1189.3,486.6 L1190.0,485.8 L1190.3,485.5 L1191.3,484.4 L1192.3,483.2 L1193.3,482.0 L1194.3,480.9 L1194.6,480.6 L1195.3,480.0 L1196.3,479.1 L1197.3,478.2 L1198.3,477.3 L1199.3,476.4 L1200.3,475.5 L1201.3,474.6 L1201.8,474.1 L1202.3,473.6 L1203.3,472.4 L1204.3,471.1 L1205.3,469.7 L1206.3,468.3 L1206.4,468.2 L1207.3,467.0 L1208.3,465.6 L1209.3,464.2 L1210.3,462.8 L1211.3,461.3 L1211.6,460.9 L1212.3,459.8 L1213.3,458.3 L1214.3,456.7 L1215.3,455.3 L1215.5,455.0 L1216.3,453.9 L1217.3,452.7 L1218.3,451.5 L1219.3,450.3 L1219.5,450.1 L1220.3,449.3 L1221.3,448.2 L1222.3,447.2 L1223.3,446.2 L1224.0,445.7 L1224.3,445.5 L1225.3,444.8 L1226.3,444.2 L1227.3,443.6 L1228.3,443.0 L1228.6,442.8 L1229.3,442.4 L1230.3,441.7 L1231.3,441.0 L1232.3,440.3 L1232.6,440.1 L1233.3,439.3 L1234.3,437.9 L1235.3,436.5 L1235.8,435.8 L1236.3,435.3 L1237.3,434.2 L1238.3,433.2 L1239.3,432.1 L1239.8,431.6 L1240.3,431.1 L1241.3,429.9 L1242.3,428.8 L1243.3,427.8 L1243.7,427.5 L1244.3,427.0 L1245.3,426.3 L1246.3,425.6 L1247.3,425.0 L1247.6,424.8 L1248.3,424.2 L1249.3,423.4 L1250.3,422.5 L1251.3,421.8 L1252.2,421.2 L1252.3,421.2 L1253.3,420.7 L1254.3,420.4 L1255.3,420.0 L1256.2,419.8 L1256.3,419.7 L1257.3,419.4 L1258.3,419.1 L1259.3,418.8 L1260.1,418.8 L1260.3,418.8 L1261.3,418.9 L1262.3,418.8 L1263.3,418.8 L1263.4,418.8 L1264.3,419.0 L1265.3,419.6 L1266.3,420.3 L1267.3,420.9 L1268.3,421.6 L1269.3,422.2 L1270.3,422.9 L1271.3,423.7 L1271.9,424.1 L1272.3,424.4 L1273.3,425.2 L1274.3,426.0 L1275.3,426.8 L1276.3,427.8 L1276.5,428.0 L1277.3,429.0 L1278.3,430.6 L1279.3,432.0 L1279.7,432.4 L1280.3,433.0 L1281.3,433.8 L1282.3,434.4 L1282.4,434.5 L1283.3,434.9 L1284.3,435.4 L1285.3,435.7 L1285.6,435.7 L1286.3,435.8 L1287.3,435.7 L1288.3,435.6 L1289.3,435.4 L1290.2,435.1 L1290.3,435.1 L1291.3,434.9 L1292.3,434.6 L1293.3,434.4 L1294.3,434.0 L1295.2,433.7 L1295.3,433.6 L1296.3,433.1 L1297.3,432.5 L1298.3,431.9 L1299.3,431.3 L1300.3,430.7 L1301.3,430.2 L1301.8,430.0 L1302.3,429.9 L1303.3,429.6 L1304.3,429.3 L1305.3,429.0 L1306.3,428.8 L1307.0,428.5 L1307.3,428.4 L1308.3,428.0 L1309.3,427.6 L1310.3,427.2 L1311.3,426.7 L1312.3,426.2 L1313.3,425.7 L1314.3,425.1 L1315.3,424.4 L1316.2,423.8 L1316.3,423.7 L1317.3,422.9 L1318.3,421.9 L1319.3,420.9 L1320.1,420.1 L1320.3,419.9 L1321.3,419.1 L1322.3,418.3 L1323.3,417.5 L1324.3,416.6 L1324.7,416.2 L1325.3,415.5 L1326.3,414.2 L1327.3,412.8 L1328.3,411.4 L1328.7,410.8 L1329.3,410.0 L1330.3,408.4 L1331.3,406.9 L1331.9,406.2 L1332.3,405.7 L1333.3,404.6 L1334.3,403.6 L1335.2,403.1 L1335.3,403.0 L1336.3,402.7 L1337.3,402.4 L1338.2,402.4 L1338.3,402.4 L1339.3,402.7 L1340.3,403.2 L1341.3,403.7 L1341.8,403.8 L1342.3,403.8 L1343.3,403.9 L1344.3,404.0 L1345.3,404.0 L1345.7,404.0 L1346.3,403.9 L1347.3,403.6 L1348.3,403.1 L1349.3,402.5 L1350.3,402.1 L1351.3,401.7 L1352.3,401.4 L1353.3,401.0 L1354.3,400.6 L1355.3,400.2 L1355.5,400.1 L1356.3,399.7 L1357.3,399.2 L1358.3,398.7 L1359.3,398.2 L1360.3,397.6 L1360.8,397.4 L1361.3,397.1 L1362.3,396.5 L1363.3,396.0 L1364.0,395.8 L1364.3,395.8 L1365.3,395.5 L1366.3,395.3 L1367.3,395.2 L1368.0,395.1 L1368.3,395.1 L1369.3,395.2 L1370.3,395.3 L1371.3,395.5 L1371.9,395.6 L1372.3,395.7 L1373.3,396.2 L1374.3,396.8 L1375.3,397.5 L1375.8,397.8 L1376.3,398.1 L1377.3,398.9 L1378.3,399.8 L1379.3,400.6 L1379.8,401.0 L1380.3,401.3 L1381.3,402.0 L1382.3,402.6 L1383.3,403.2 L1383.7,403.4 L1384.3,403.6 L1385.3,404.0 L1386.3,404.2 L1387.3,404.4 L1387.6,404.5 L1388.3,404.5 L1389.3,404.6 L1390.3,404.7 L1391.3,404.8 L1392.2,404.9 L1392.3,404.9 L1393.3,405.2 L1394.3,405.9 L1395.3,406.7 L1396.2,407.4 L1396.3,407.5 L1397.3,408.5 L1398.3,409.8 L1399.3,411.1 L1399.4,411.2 L1400.3,412.3 L1401.3,413.6 L1402.3,414.9 L1402.7,415.4 L1403.3,416.1 L1404.3,417.2 L1405.3,418.1 L1406.3,418.6 L1407.3,419.0 L1408.3,419.4 L1408.6,419.6 L1409.3,420.1 L1410.3,421.3 L1411.3,422.6 L1411.9,423.3 L1412.3,423.8 L1413.3,425.1 L1414.3,426.5 L1415.3,427.7 L1415.8,428.3 L1416.3,428.9 L1417.3,430.0 L1418.3,431.0 L1419.3,432.0 L1420.3,433.0 L1421.1,433.8 L1421.3,434.0 L1422.3,435.0 L1423.3,436.0 L1424.3,437.0 L1425.3,438.0 L1425.7,438.4 L1426.3,439.1 L1427.3,440.2 L1428.3,441.4 L1429.3,442.5 L1429.8,443.1 L1430.3,443.6 L1431.3,444.7 L1432.3,445.7 L1433.3,446.8 L1434.3,447.8 L1434.4,447.9 L1435.3,448.8 L1436.3,449.7 L1437.3,450.6 L1438.3,451.6 L1439.3,452.6 L1439.7,453.1 L1440.3,453.8 L1441.3,455.2 L1442.3,456.6 L1442.9,457.6 L1443.3,458.2 L1444.3,459.9 L1445.3,461.7 L1446.2,463.0 L1446.3,463.1 L1447.3,464.3 L1448.3,465.2 L1449.3,466.2 L1450.1,466.9 L1450.3,467.1 L1451.3,468.2 L1452.3,469.3 L1453.3,470.3 L1454.1,470.9 L1454.3,471.0 L1455.3,471.5 L1456.3,471.9 L1457.3,472.4 L1458.3,472.9 L1458.7,473.1 L1459.3,473.6 L1460.3,474.6 L1461.3,475.7 L1462.3,476.9 L1462.6,477.2 L1463.3,477.9 L1464.3,478.8 L1465.3,479.7 L1465.9,480.3 L1466.3,480.7 L1467.3,482.0 L1468.3,483.2 L1469.3,484.3 L1469.8,484.7 L1470.3,485.0 L1471.3,485.5 L1472.3,485.8 L1473.3,486.3 L1473.7,486.5 L1474.3,487.0 L1475.3,488.0 L1476.3,489.1 L1477.3,490.1 L1477.7,490.4 L1478.3,490.8 L1479.3,491.3 L1480.3,491.8 L1481.3,492.3 L1481.6,492.5 L1482.3,493.0 L1483.3,493.9 L1484.3,494.9 L1485.3,495.9 L1485.5,496.1 L1486.3,496.9 L1487.3,497.8 L1488.3,498.7 L1489.3,499.4 L1489.5,499.6 L1490.3,500.1 L1491.3,500.7 L1492.1,501.4 L1492.3,501.7 L1493.3,503.2 L1494.1,504.6 L1494.3,504.9 L1495.3,506.5 L1496.0,507.3 L1496.3,507.5 L1497.3,508.2 L1498.3,508.7 L1499.3,509.2 L1499.9,509.5 L1500.3,509.8 L1501.3,510.5 L1502.3,511.3 L1503.2,512.0 L1503.3,512.1 L1504.3,512.9 L1505.3,513.8 L1505.8,514.2 L1506.3,514.6 L1507.3,515.4 L1508.3,516.1 L1509.3,516.8 L1510.3,517.5 L1511.3,518.2 L1512.3,519.0 L1513.3,519.8 L1514.3,520.5 L1515.3,521.4 L1516.3,522.3 L1517.3,523.2 L1518.0,523.9 L1518.3,524.2 L1519.3,525.4 L1520.3,526.8 L1521.3,528.2 L1522.3,529.4 L1523.0,530.0 L1523.3,530.3 L1524.3,530.8 L1525.3,531.2 L1526.3,531.6 L1527.3,532.0 L1528.0,532.4 L1528.3,532.7 L1529.3,533.9 L1530.3,535.4 L1531.3,537.0 L1532.3,538.4 L1533.0,539.1 L1533.3,539.4 L1534.3,540.0 L1535.3,540.6 L1536.3,541.1 L1537.3,541.8 L1538.0,542.4 L1538.3,542.7 L1539.3,544.1 L1540.3,545.9 L1541.3,547.7 L1542.3,549.1 L1543.0,549.7 L1543.3,549.8 L1544.3,550.1 L1545.3,550.3 L1546.3,550.4 L1547.3,550.7 L1548.0,550.9 L1548.3,551.1 L1549.3,552.1 L1550.3,553.4 L1551.3,554.6 L1552.0,555.2 L1552.3,555.4 L1553.3,555.9 L1554.3,556.3 L1555.3,556.8 L1556.3,557.3 L1557.0,557.9 L1557.3,558.1 L1558.3,559.6 L1559.3,561.3 L1560.0,562.3 L1560.3,562.7 L1561.3,563.7 L1562.3,564.6 L1563.3,565.3 L1564.3,566.0 L1565.3,567.0 L1566.0,567.7 L1566.3,568.2 L1567.3,570.0 L1568.3,572.3 L1569.3,574.7 L1570.3,576.9 L1571.0,578.2 L1571.3,578.7 L1572.3,580.1 L1573.3,581.4 L1574.3,582.6 L1575.3,584.0 L1576.0,585.2 L1576.3,585.8 L1577.3,588.2 L1578.3,591.0 L1579.0,593.0 L1579.3,593.9 L1580.3,597.3 L1581.3,600.7 L1582.0,602.5 L1582.3,603.0 L1583.3,604.5 L1584.3,605.8 L1585.3,606.9 L1586.3,608.0 L1587.0,609.0 L1587.3,609.5 L1588.3,611.2 L1589.3,613.2 L1590.3,615.1 L1591.0,616.4 L1591.3,616.9 L1592.3,619.0 L1593.0,619.6 L1593.3,619.6 L1594.3,619.5 L1595.3,619.2 L1596.3,618.9 L1597.3,618.7 L1598.0,618.7 L1598.3,618.7 L1599.3,619.1 L1600.3,619.9 L1601.3,620.8 L1602.0,621.3 L1602.3,621.4 L1603.3,621.8 L1604.3,622.1 L1605.3,622.5 L1606.3,623.0 L1607.0,623.5 L1607.3,623.9 L1608.3,625.7 L1609.3,628.1 L1610.0,629.5 L1610.3,630.0 L1611.3,631.6 L1612.3,633.0 L1613.3,634.3 L1614.3,635.8 L1615.3,637.4 L1616.0,638.7 L1616.3,639.3 L1617.3,641.7 L1618.3,644.5 L1619.3,647.3 L1620.0,649.2 L1620.3,650.0 L1621.3,652.4 L1622.3,654.9 L1623.3,657.3 L1624.3,659.8 L1625.3,662.4 L1626.0,664.3 L1626.3,665.2 L1627.3,668.1 L1628.3,671.2 L1629.3,674.3 L1630.3,677.7 L1631.0,680.2 L1631.3,681.3 L1632.3,685.2 L1633.3,689.4 L1634.3,693.8 L1635.3,698.3 L1636.0,701.4 L1636.3,702.8 L1637.3,707.6 L1638.3,712.5 L1639.3,717.6 L1640.0,721.2 L1640.3,722.7 L1641.3,728.0 L1642.3,733.4 L1642.4,733.9 L1643.3,739.0 L1644.3,744.7 L1645.0,748.3 L1645.3,749.8 L1646.3,754.4 L1647.3,758.6 L1648.0,760.8 L1648.3,761.6 L1649.3,763.9 L1650.0,764.6 L1650.3,764.5 L1651.3,763.3 L1652.3,761.2 L1652.4,761.0 L1653.3,757.7 L1654.3,752.5 L1655.0,748.7 L1655.3,747.2 L1656.3,741.6 L1657.3,736.2 L1658.0,733.1 L1658.3,732.0 L1659.3,728.4 L1660.3,725.6 L1661.0,724.3 L1661.3,723.9 L1662.3,722.6 L1663.3,721.8 L1664.2,721.6 L1664.3,721.6 L1665.3,722.0 L1666.3,722.7 L1667.3,723.7 L1668.0,724.3 L1668.3,724.5 L1669.3,725.5 L1670.3,726.3 L1671.0,726.7 L1671.3,726.9 L1672.3,727.2 L1673.3,727.4 L1674.3,727.8 L1675.0,728.1 L1675.3,728.3 L1676.3,729.4 L1677.3,730.8 L1678.3,732.5 L1679.0,733.7 L1679.3,734.2 L1680.3,735.8 L1681.3,737.5 L1682.3,739.3 L1683.3,741.2 L1684.0,742.5 L1684.3,743.1 L1685.3,745.1 L1686.3,747.3 L1687.3,749.7 L1688.0,751.5 L1688.3,752.4 L1689.3,756.4 L1690.3,760.8 L1691.3,765.6 L1692.0,769.0 L1692.3,770.5 L1693.3,775.3 L1694.3,780.4 L1695.3,785.9 L1696.0,789.3 L1696.3,790.8 L1697.3,796.7 L1698.3,805.4 L1699.0,809.8 L1699.3,811.7 L1700.3,819.1 L1701.0,824.5 L1701.3,826.9 L1702.3,834.7 L1703.0,840.8 L1703.3,843.8 L1704.3,855.6 L1704.6,858.9 L1705.3,865.2 L1706.3,876.7 L1706.5,880.1 L1707.3,893.9 L1708.0,905.0 L1708.3,908.8 L1709.3,919.5 L1710.3,928.9 L1711.3,938.0 L1712.3,944.6 L1712.9,947.2 L1713.3,948.7 L1714.3,951.9 L1715.3,954.3 L1715.6,954.8 L1716.3,955.9 L1717.3,957.0 L1717.8,957.9 L1718.3,959.2 L1719.3,961.6 L1720.2,962.8 L1720.3,962.7 L1721.3,961.4 L1722.3,959.6 L1723.3,957.6 L1724.3,955.6 L1725.3,953.2 L1726.3,950.6 L1727.3,948.3 L1728.3,945.7 L1729.3,942.5 L1730.3,939.2 L1731.3,935.9 L1732.3,932.5 L1733.3,929.0 L1734.3,925.6 L1735.3,922.5 L1736.3,919.4 L1737.3,916.6 L1738.3,913.9 L1739.3,911.4 L1740.3,909.0 L1741.3,906.9 L1741.7,906.1 L1742.3,905.0 L1743.3,903.3 L1744.3,901.7 L1745.3,900.3 L1745.7,899.8 L1746.3,899.1 L1747.3,897.8 L1748.3,896.6 L1749.3,895.5 L1750.3,894.6 L1750.9,894.2 L1751.3,893.9 L1752.3,893.4 L1753.3,892.9 L1754.3,892.6 L1755.3,892.5 L1755.4,892.5 L1756.3,892.7 L1757.3,892.9 L1758.3,893.1 L1759.3,893.3 L1760.0,893.5 L1760.3,893.6 L1761.3,893.8 L1762.3,894.1 L1763.3,894.4 L1764.3,894.9 L1764.6,895.0 L1765.3,895.4 L1766.3,896.1 L1767.3,896.9 L1768.3,897.8 L1769.1,898.6 L1769.3,898.9 L1770.3,900.3 L1771.3,902.1 L1772.3,904.2 L1773.0,905.7 L1773.3,906.3 L1774.3,908.6 L1775.3,911.1 L1776.3,913.7 L1777.3,916.4 L1778.3,919.1 L1778.7,920.1 L1779.3,921.7 L1780.3,924.3 L1781.3,926.8 L1782.3,929.4 L1783.3,932.0 L1784.0,933.8 L1784.3,934.6 L1785.3,937.3 L1786.3,940.0 L1787.3,942.6 L1787.5,943.1 L1795.0,1233.5 L1802.0,1233.5 L1808.6,970.7 L1818.4,1233.5"/>
<path stroke="#1A6FDF" d="M253.3,1233.3 L254.3,1233.3 L255.3,1233.2 L256.3,1233.2 L257.3,1233.1 L258.3,1233.1 L259.3,1233.1 L260.3,1233.1 L261.3,1233.1 L262.3,1233.2 L263.3,1233.2 L264.3,1233.3 L265.3,1233.3 L266.3,1233.3 L267.3,1233.3 L268.3,1233.2 L269.3,1233.2 L270.3,1233.1 L271.3,1233.1 L272.3,1233.1 L273.3,1233.1 L274.3,1233.1 L275.3,1233.1 L276.3,1233.1 L277.3,1233.1 L278.3,1233.2 L279.3,1233.2 L280.3,1233.2 L281.3,1233.1 L282.3,1233.1 L283.3,1233.1 L284.3,1233.0 L285.3,1232.9 L286.3,1232.8 L287.3,1232.8 L288.3,1232.7 L289.3,1232.7 L290.3,1232.7 L291.3,1232.7 L292.3,1232.7 L293.3,1232.7 L294.3,1232.7 L295.3,1232.7 L296.3,1232.7 L297.3,1232.7 L298.3,1232.8 L299.3,1232.8 L300.0,1232.9 L300.3,1233.1 L301.3,1233.2 L302.3,1233.3 L303.3,1233.4 L304.3,1233.4 L305.3,1233.5 L306.3,1233.4 L307.3,1233.4 L308.3,1233.3 L309.3,1233.3 L310.3,1233.3 L311.3,1233.3 L312.3,1233.3 L313.3,1233.3 L314.3,1233.4 L315.3,1233.4 L316.3,1233.5 L317.3,1233.5 L318.3,1233.5 L319.3,1233.5 L320.3,1233.6 L321.3,1233.6 L322.3,1233.6 L323.3,1233.6 L324.3,1233.7 L325.3,1233.7 L326.3,1233.6 L327.3,1233.6 L328.3,1233.5 L329.3,1233.4 L330.3,1233.4 L331.3,1233.3 L332.3,1233.2 L333.3,1233.1 L334.3,1233.1 L335.3,1233.0 L336.3,1232.9 L337.3,1232.8 L338.3,1232.7 L339.3,1232.6 L340.3,1232.6 L341.3,1232.5 L342.3,1232.5 L343.3,1232.6 L344.3,1232.7 L345.3,1232.8 L346.3,1232.9 L347.3,1233.0 L348.3,1233.1 L349.3,1233.2 L350.0,1233.2 L350.3,1233.3 L351.3,1233.3 L352.3,1233.4 L353.3,1233.4 L354.3,1233.3 L355.3,1233.3 L356.3,1233.3 L357.3,1233.2 L358.3,1233.2 L359.3,1233.2 L360.3,1233.2 L361.3,1233.2 L362.3,1233.2 L363.3,1233.2 L364.3,1233.2 L365.3,1233.3 L366.3,1233.3 L367.3,1233.3 L368.3,1233.3 L369.3,1233.2 L370.3,1233.2 L371.3,1233.1 L372.3,1233.1 L373.3,1233.1 L374.3,1233.1 L375.3,1233.1 L376.3,1233.1 L377.3,1233.1 L378.3,1233.2 L379.3,1233.2 L380.3,1233.3 L381.3,1233.3 L382.3,1233.3 L383.3,1233.3 L384.3,1233.3 L385.3,1233.3 L386.3,1233.2 L387.3,1233.2 L388.3,1233.1 L389.3,1233.1 L390.3,1233.1 L391.3,1233.1 L392.3,1233.2 L393.3,1233.2 L394.3,1233.3 L395.3,1233.4 L396.3,1233.4 L397.3,1233.4 L398.3,1233.4 L399.3,1233.4 L400.0,1233.4 L400.3,1233.4 L401.3,1233.3 L402.3,1233.3 L403.3,1233.3 L404.3,1233.3 L405.3,1233.2 L406.3,1233.2 L407.3,1233.2 L408.3,1233.2 L409.3,1233.2 L410.3,1233.3 L411.3,1233.3 L412.3,1233.3 L413.3,1233.3 L414.3,1233.3 L415.3,1233.3 L416.3,1233.3 L417.3,1233.2 L418.3,1233.2 L419.3,1233.1 L420.3,1233.1 L421.3,1233.0 L422.3,1233.0 L423.3,1233.0 L424.3,1233.0 L425.3,1233.0 L426.3,1233.0 L427.3,1233.1 L428.3,1233.1 L429.3,1233.2 L430.3,1233.2 L431.3,1233.1 L432.3,1233.0 L433.3,1233.0 L434.3,1232.9 L435.3,1232.8 L436.3,1232.8 L437.3,1232.8 L438.3,1232.8 L439.3,1232.8 L440.3,1232.9 L441.3,1232.9 L442.3,1233.0 L443.3,1233.1 L444.3,1233.2 L445.3,1233.3 L446.3,1233.3 L447.3,1233.4 L448.3,1233.4 L449.3,1233.4 L450.0,1233.5 L450.3,1233.5 L451.3,1233.5 L452.3,1233.6 L453.3,1233.6 L454.3,1233.6 L455.3,1233.6 L456.3,1233.6 L457.3,1233.6 L458.3,1233.6 L459.3,1233.6 L460.3,1233.6 L461.3,1233.6 L462.3,1233.6 L463.3,1233.6 L464.3,1233.5 L465.3,1233.5 L466.3,1233.5 L467.3,1233.4 L468.3,1233.4 L469.3,1233.3 L470.3,1233.3 L471.3,1233.3 L472.3,1233.3 L473.3,1233.3 L474.3,1233.3 L475.3,1233.3 L476.3,1233.4 L477.3,1233.4 L478.3,1233.5 L479.3,1233.6 L480.3,1233.6 L481.3,1233.7 L482.3,1233.7 L483.3,1233.7 L484.3,1233.7 L485.3,1233.7 L486.3,1233.7 L487.3,1233.8 L488.3,1233.8 L489.3,1233.9 L490.3,1234.0 L491.3,1234.1 L492.3,1234.2 L493.3,1234.2 L494.3,1234.2 L495.3,1234.2 L496.3,1234.1 L497.3,1233.9 L498.3,1233.8 L499.3,1233.6 L500.0,1233.5 L500.3,1233.4 L501.3,1233.3 L502.3,1233.3 L503.3,1233.4 L504.3,1233.4 L505.3,1233.5 L506.3,1233.6 L507.3,1233.7 L508.3,1233.7 L509.3,1233.7 L510.3,1233.7 L511.3,1233.7 L512.3,1233.7 L513.3,1233.6 L514.3,1233.6 L515.3,1233.5 L516.3,1233.5 L517.3,1233.5 L518.3,1233.5 L519.3,1233.5 L520.3,1233.5 L521.3,1233.5 L522.3,1233.4 L523.3,1233.4 L524.3,1233.3 L525.3,1233.3 L526.3,1233.3 L527.3,1233.3 L528.3,1233.4 L529.3,1233.4 L530.3,1233.5 L531.3,1233.6 L532.3,1233.6 L533.3,1233.7 L534.3,1233.6 L535.3,1233.6 L536.3,1233.5 L537.3,1233.4 L538.3,1233.3 L539.3,1233.1 L540.0,1233.0 L540.3,1232.9 L541.3,1232.8 L542.3,1232.8 L543.3,1232.8 L544.3,1232.8 L545.3,1232.8 L546.3,1232.8 L547.3,1232.8 L548.3,1232.9 L549.3,1232.9 L550.3,1232.9 L551.3,1232.9 L552.3,1232.9 L553.3,1232.9 L554.3,1232.9 L555.3,1233.0 L556.3,1232.9 L557.3,1232.9 L558.3,1232.9 L559.3,1232.8 L560.0,1232.7 L560.3,1232.7 L561.3,1232.6 L562.3,1232.6 L563.3,1232.6 L564.3,1232.7 L565.3,1232.7 L566.3,1232.8 L567.3,1232.8 L568.3,1232.8 L569.3,1232.8 L570.3,1232.8 L571.3,1232.8 L572.3,1232.8 L573.3,1232.8 L574.3,1232.8 L575.3,1232.8 L576.3,1232.7 L577.3,1232.7 L578.3,1232.6 L579.3,1232.6 L580.0,1232.5 L580.3,1232.5 L581.3,1232.4 L582.3,1232.4 L583.3,1232.3 L584.3,1232.3 L585.3,1232.3 L586.3,1232.3 L587.3,1232.2 L588.3,1232.2 L589.3,1232.1 L590.3,1232.0 L591.3,1232.0 L592.3,1231.9 L593.3,1231.8 L594.3,1231.8 L595.3,1231.7 L596.3,1231.7 L597.3,1231.6 L598.3,1231.6 L599.3,1231.5 L600.0,1231.4 L600.3,1231.4 L601.3,1231.3 L602.3,1231.2 L603.3,1231.2 L604.3,1231.1 L605.3,1231.0 L606.3,1230.9 L607.3,1230.8 L608.3,1230.7 L609.3,1230.5 L610.3,1230.4 L611.3,1230.2 L612.3,1230.1 L613.3,1229.9 L614.3,1229.7 L615.3,1229.5 L616.3,1229.3 L617.3,1229.1 L618.3,1228.9 L619.3,1228.6 L620.0,1228.5 L620.3,1228.4 L621.3,1228.1 L622.3,1227.9 L623.3,1227.7 L624.3,1227.4 L625.3,1227.2 L626.3,1227.0 L627.3,1226.8 L628.3,1226.6 L629.3,1226.4 L630.3,1226.2 L631.3,1226.1 L632.3,1225.9 L633.3,1225.7 L634.0,1225.6 L634.3,1225.6 L635.3,1225.4 L636.3,1225.2 L637.3,1225.1 L638.3,1224.9 L639.3,1224.7 L640.3,1224.5 L641.3,1224.3 L642.3,1224.1 L643.3,1223.8 L644.3,1223.6 L645.3,1223.4 L646.3,1223.1 L647.3,1222.9 L648.0,1222.7 L648.3,1222.6 L649.3,1222.3 L650.3,1222.1 L651.3,1221.8 L652.3,1221.6 L653.3,1221.3 L654.3,1221.1 L655.3,1220.8 L656.3,1220.6 L657.3,1220.3 L658.3,1220.0 L659.3,1219.7 L660.3,1219.4 L661.3,1219.1 L662.3,1218.8 L663.3,1218.5 L664.0,1218.3 L664.3,1218.2 L665.3,1217.9 L666.3,1217.6 L667.3,1217.3 L668.3,1217.0 L669.3,1216.7 L670.3,1216.4 L671.3,1216.1 L672.3,1215.7 L673.3,1215.4 L674.3,1215.0 L675.3,1214.7 L676.3,1214.4 L677.3,1214.0 L678.3,1213.7 L679.3,1213.4 L680.0,1213.1 L680.3,1213.0 L681.3,1212.7 L682.3,1212.3 L683.3,1212.0 L684.3,1211.7 L685.3,1211.3 L686.3,1211.0 L687.3,1210.6 L688.3,1210.3 L689.3,1209.9 L690.3,1209.6 L691.3,1209.3 L692.3,1208.9 L693.3,1208.5 L694.3,1208.2 L695.3,1207.8 L696.3,1207.4 L697.3,1207.1 L698.3,1206.7 L699.3,1206.3 L700.0,1206.0 L700.3,1205.9 L701.3,1205.5 L702.3,1205.1 L703.3,1204.7 L704.3,1204.3 L705.3,1203.9 L706.3,1203.4 L707.3,1203.0 L708.3,1202.4 L709.3,1201.9 L710.0,1201.4 L710.3,1201.2 L711.3,1200.3 L712.3,1199.1 L713.3,1197.9 L714.3,1196.6 L715.3,1195.5 L716.3,1194.7 L717.0,1194.4 L717.3,1194.3 L718.3,1194.0 L719.3,1193.8 L720.3,1193.7 L721.3,1193.5 L722.3,1193.3 L723.3,1193.1 L724.0,1193.0 L724.3,1192.9 L725.3,1192.5 L726.3,1192.1 L727.3,1191.7 L728.3,1191.1 L729.3,1190.6 L730.3,1189.9 L731.3,1189.3 L732.3,1188.6 L733.3,1187.9 L734.3,1187.2 L735.3,1186.5 L736.3,1185.7 L737.3,1185.0 L738.3,1184.3 L739.3,1183.6 L740.0,1183.1 L740.3,1182.9 L741.3,1182.2 L742.3,1181.5 L743.3,1180.8 L744.3,1180.0 L745.3,1179.3 L746.3,1178.5 L747.3,1177.8 L748.3,1177.0 L749.3,1176.2 L750.3,1175.4 L751.3,1174.6 L752.3,1173.8 L753.3,1173.0 L754.3,1172.2 L755.3,1171.4 L756.3,1170.6 L757.3,1169.8 L758.3,1169.0 L759.3,1168.1 L760.0,1167.6 L760.3,1167.3 L761.3,1166.5 L762.3,1165.7 L763.3,1164.9 L764.3,1164.1 L765.3,1163.3 L766.3,1162.5 L767.3,1161.7 L768.3,1160.9 L769.3,1160.0 L770.3,1159.2 L771.3,1158.4 L772.3,1157.5 L773.3,1156.7 L774.3,1155.8 L775.3,1154.9 L776.3,1154.0 L777.3,1153.1 L778.3,1152.2 L779.3,1151.3 L780.0,1150.7 L780.3,1150.4 L781.3,1149.5 L782.3,1148.6 L783.3,1147.6 L784.3,1146.7 L785.3,1145.7 L786.3,1144.7 L787.3,1143.7 L788.3,1142.7 L789.3,1141.7 L790.3,1140.7 L791.3,1139.7 L792.3,1138.6 L793.3,1137.6 L794.3,1136.5 L795.3,1135.4 L796.3,1134.4 L797.3,1133.3 L798.3,1132.2 L799.3,1131.2 L800.0,1130.4 L800.3,1130.1 L801.3,1128.9 L802.3,1127.7 L803.3,1126.5 L804.3,1125.3 L805.3,1124.0 L806.3,1122.8 L807.3,1121.5 L808.3,1120.3 L809.3,1119.0 L810.3,1117.8 L811.3,1116.5 L812.3,1115.2 L813.3,1114.0 L814.3,1112.7 L815.3,1111.5 L816.3,1110.3 L817.3,1109.0 L818.3,1107.8 L819.3,1106.7 L820.0,1105.9 L820.3,1105.5 L821.3,1104.3 L822.3,1103.2 L823.3,1102.0 L824.3,1100.9 L825.3,1099.8 L826.3,1098.6 L827.3,1097.5 L828.3,1096.4 L829.3,1095.3 L830.3,1094.2 L831.3,1093.1 L832.3,1092.1 L833.3,1091.0 L834.3,1089.8 L835.3,1088.7 L836.3,1087.6 L837.3,1086.5 L838.3,1085.3 L839.3,1084.2 L840.3,1083.0 L841.2,1081.9 L841.3,1081.8 L842.3,1080.6 L843.3,1079.4 L844.3,1078.2 L845.3,1077.0 L846.3,1075.8 L847.3,1074.6 L848.3,1073.3 L849.3,1072.0 L850.3,1070.7 L851.3,1069.3 L851.7,1068.8 L852.3,1067.9 L853.3,1066.4 L854.3,1064.8 L855.3,1063.2 L856.3,1061.6 L857.3,1059.9 L858.3,1058.3 L859.3,1056.6 L860.3,1055.0 L861.3,1053.5 L861.7,1052.9 L862.3,1052.0 L863.3,1050.5 L864.3,1049.1 L865.3,1047.7 L866.3,1046.3 L867.3,1044.9 L868.3,1043.5 L869.3,1042.1 L870.3,1040.7 L871.3,1039.3 L872.3,1037.9 L873.3,1036.5 L874.3,1035.1 L875.3,1033.7 L875.6,1033.3 L876.3,1032.3 L877.3,1030.8 L878.3,1029.4 L879.3,1028.0 L880.3,1026.6 L881.3,1025.2 L882.3,1023.8 L883.3,1022.5 L884.3,1021.1 L885.3,1019.7 L886.3,1018.2 L887.3,1016.8 L888.3,1015.3 L889.0,1014.3 L889.3,1013.9 L890.3,1012.3 L891.3,1010.8 L892.3,1009.2 L893.3,1007.7 L894.3,1006.1 L895.3,1004.5 L896.3,1002.8 L897.3,1001.2 L898.3,999.5 L899.3,997.9 L900.0,996.7 L900.3,996.2 L901.3,994.6 L902.3,992.9 L903.3,991.3 L904.3,989.6 L905.0,988.5 L905.3,988.0 L906.3,986.4 L907.3,984.8 L908.3,983.2 L909.3,981.6 L910.3,980.0 L911.3,978.3 L912.0,977.2 L912.3,976.7 L913.3,975.0 L914.3,973.3 L915.3,971.6 L916.3,969.8 L916.7,969.0 L917.3,967.9 L918.3,965.9 L919.3,963.8 L920.3,961.5 L920.6,960.8 L921.3,959.1 L922.3,956.6 L923.3,954.0 L924.3,951.3 L924.6,950.6 L925.3,948.7 L926.3,945.9 L927.3,943.3 L927.8,942.1 L928.3,941.1 L929.3,939.0 L930.3,937.1 L931.3,935.4 L931.8,934.6 L932.3,933.8 L933.3,932.3 L934.3,931.0 L935.3,929.8 L935.7,929.4 L936.3,928.8 L937.3,928.1 L938.3,927.4 L939.3,926.8 L940.3,926.0 L940.9,925.5 L941.3,925.0 L942.3,923.5 L943.3,921.8 L944.2,920.4 L944.3,920.2 L945.3,918.8 L946.3,917.4 L947.3,916.1 L948.2,914.8 L948.3,914.6 L949.3,913.0 L950.3,911.4 L951.3,909.6 L952.1,908.2 L952.3,907.9 L953.3,905.9 L954.0,904.6 L954.3,904.0 L955.3,902.2 L956.3,900.4 L957.3,898.6 L958.3,896.8 L959.3,895.0 L960.3,893.3 L961.3,891.5 L962.3,889.7 L963.3,887.8 L964.0,886.5 L964.3,885.9 L965.3,884.0 L966.3,881.9 L967.3,879.8 L968.3,877.8 L969.3,875.7 L970.3,873.8 L971.3,871.9 L972.0,870.7 L972.3,870.2 L973.3,868.6 L974.3,867.2 L975.3,865.7 L976.3,864.4 L977.3,863.0 L978.3,861.7 L979.3,860.3 L980.3,858.8 L981.0,857.7 L981.3,857.2 L982.3,855.6 L983.3,853.9 L984.3,852.2 L985.3,850.5 L986.3,848.7 L987.3,846.9 L988.3,845.1 L989.3,843.3 L990.0,842.0 L990.3,841.5 L991.3,839.6 L992.3,837.7 L993.3,835.7 L994.3,833.7 L995.3,831.7 L996.3,829.7 L997.3,827.7 L998.3,825.6 L999.3,823.6 L1000.0,822.1 L1000.3,821.5 L1001.3,819.4 L1002.3,817.2 L1003.3,815.1 L1004.3,812.9 L1005.3,810.8 L1006.3,808.7 L1007.3,806.7 L1008.0,805.3 L1008.3,804.8 L1009.3,802.9 L1010.3,801.1 L1011.3,799.2 L1012.3,797.5 L1013.3,795.7 L1014.3,794.0 L1015.3,792.3 L1016.3,790.6 L1017.3,788.9 L1018.3,787.3 L1019.3,785.6 L1020.0,784.4 L1020.3,783.9 L1021.3,782.3 L1022.3,780.8 L1023.3,779.3 L1024.3,777.8 L1025.3,776.3 L1026.3,774.9 L1027.3,773.4 L1028.3,771.9 L1029.3,770.4 L1030.3,768.8 L1031.3,767.2 L1032.0,766.0 L1032.3,765.5 L1033.3,763.6 L1034.3,761.7 L1035.3,759.8 L1036.3,757.8 L1037.3,755.7 L1038.3,753.7 L1039.3,751.8 L1040.0,750.5 L1040.3,749.9 L1041.3,748.2 L1042.3,746.4 L1043.3,744.7 L1044.3,742.9 L1045.0,741.7 L1045.3,741.1 L1046.3,739.3 L1047.3,737.4 L1048.3,735.5 L1049.3,733.7 L1050.3,731.8 L1051.3,729.9 L1051.4,729.7 L1052.3,728.1 L1053.3,726.4 L1054.3,724.6 L1055.3,722.7 L1055.7,721.8 L1056.3,720.5 L1057.3,718.1 L1058.3,714.9 L1059.3,709.4 L1059.6,707.7 L1060.3,704.3 L1061.0,701.4 L1061.3,700.4 L1062.3,697.5 L1062.9,695.9 L1063.3,694.9 L1064.3,692.5 L1064.9,691.6 L1065.3,691.3 L1066.3,690.7 L1067.3,690.3 L1067.5,690.2 L1068.3,689.8 L1069.3,689.4 L1070.1,688.8 L1070.3,688.6 L1071.3,686.9 L1072.1,685.4 L1072.3,685.2 L1073.3,684.1 L1074.3,683.0 L1074.7,682.5 L1075.3,681.7 L1076.3,680.0 L1077.3,678.0 L1078.3,676.1 L1079.3,674.1 L1079.9,672.9 L1080.3,672.2 L1081.3,670.5 L1082.3,668.8 L1082.6,668.3 L1083.3,667.1 L1084.3,665.5 L1085.3,663.9 L1085.8,663.1 L1086.3,662.4 L1087.3,660.9 L1088.3,659.6 L1088.5,659.3 L1089.3,658.4 L1090.3,657.3 L1091.3,656.2 L1091.5,655.9 L1092.3,655.0 L1093.3,653.8 L1094.3,652.6 L1094.8,651.9 L1095.3,651.1 L1096.3,649.6 L1097.3,647.9 L1098.3,646.1 L1099.3,644.3 L1100.3,642.5 L1101.3,640.8 L1102.3,639.1 L1103.3,637.3 L1104.3,635.6 L1105.2,633.9 L1105.3,633.7 L1106.3,631.7 L1107.3,629.6 L1108.3,627.5 L1109.3,625.3 L1110.3,623.2 L1111.3,620.9 L1112.3,618.7 L1113.2,616.8 L1113.3,616.6 L1114.3,614.7 L1115.3,612.9 L1116.3,611.2 L1117.3,609.3 L1117.8,608.3 L1118.3,607.2 L1119.3,604.9 L1120.3,602.6 L1121.0,601.1 L1121.3,600.5 L1122.3,598.5 L1123.3,596.6 L1124.3,594.8 L1125.3,593.1 L1126.3,591.3 L1127.3,589.6 L1128.0,588.4 L1128.3,587.9 L1129.3,586.1 L1130.3,584.4 L1131.3,582.6 L1132.3,580.9 L1133.3,579.2 L1134.3,577.6 L1135.3,576.1 L1136.0,575.0 L1136.3,574.6 L1137.3,573.2 L1138.3,571.8 L1139.3,570.6 L1140.3,569.3 L1141.3,568.1 L1142.3,566.8 L1143.3,565.4 L1144.0,564.5 L1144.3,564.0 L1145.3,562.5 L1146.3,560.9 L1147.3,559.3 L1148.3,557.7 L1149.3,556.0 L1150.3,554.4 L1151.3,552.9 L1152.0,551.8 L1152.3,551.4 L1153.3,549.9 L1154.3,548.5 L1155.3,547.1 L1156.3,545.7 L1157.3,544.4 L1158.3,543.0 L1159.3,541.6 L1160.0,540.6 L1160.3,540.2 L1161.3,538.8 L1162.3,537.5 L1163.3,536.1 L1164.3,534.8 L1165.3,533.4 L1166.3,532.0 L1167.3,530.6 L1168.0,529.6 L1168.3,529.2 L1169.3,527.6 L1170.3,526.0 L1171.3,524.4 L1172.3,522.7 L1173.3,521.1 L1174.3,519.4 L1175.3,517.9 L1176.0,516.9 L1176.3,516.5 L1177.3,515.1 L1178.3,513.9 L1179.3,512.6 L1180.3,511.5 L1181.3,510.3 L1182.0,509.6 L1182.3,509.3 L1183.3,508.3 L1184.3,507.3 L1185.3,506.4 L1186.3,505.6 L1187.3,504.7 L1188.3,503.8 L1189.3,502.8 L1190.0,502.1 L1190.3,501.8 L1191.3,500.7 L1192.3,499.5 L1193.3,498.4 L1194.3,497.3 L1194.6,497.0 L1195.3,496.4 L1196.3,495.5 L1197.3,494.8 L1198.3,494.0 L1199.3,493.1 L1200.3,492.2 L1201.3,491.4 L1201.8,490.9 L1202.3,490.4 L1203.3,489.2 L1204.3,487.9 L1205.3,486.6 L1206.3,485.2 L1206.4,485.1 L1207.3,483.9 L1208.3,482.6 L1209.3,481.2 L1210.3,479.8 L1211.3,478.4 L1211.6,478.0 L1212.3,477.0 L1213.3,475.5 L1214.3,474.0 L1215.3,472.5 L1215.5,472.3 L1216.3,471.2 L1217.3,470.0 L1218.3,468.9 L1219.3,467.8 L1219.5,467.6 L1220.3,466.7 L1221.3,465.7 L1222.3,464.7 L1223.3,463.8 L1224.0,463.2 L1224.3,463.0 L1225.3,462.4 L1226.3,461.9 L1227.3,461.3 L1228.3,460.8 L1228.6,460.6 L1229.3,460.2 L1230.3,459.6 L1231.3,459.0 L1232.3,458.3 L1232.6,458.0 L1233.3,457.3 L1234.3,455.9 L1235.3,454.5 L1235.8,453.8 L1236.3,453.3 L1237.3,452.2 L1238.3,451.2 L1239.3,450.2 L1239.8,449.7 L1240.3,449.1 L1241.3,448.0 L1242.3,446.9 L1243.3,445.9 L1243.7,445.5 L1244.3,445.0 L1245.3,444.3 L1246.3,443.6 L1247.3,442.9 L1247.6,442.7 L1248.3,442.2 L1249.3,441.3 L1250.3,440.4 L1251.3,439.7 L1252.2,439.1 L1252.3,439.0 L1253.3,438.6 L1254.3,438.2 L1255.3,437.8 L1256.2,437.5 L1256.3,437.5 L1257.3,437.1 L1258.3,436.8 L1259.3,436.5 L1260.1,436.4 L1260.3,436.4 L1261.3,436.4 L1262.3,436.4 L1263.3,436.3 L1263.4,436.3 L1264.3,436.4 L1265.3,436.8 L1266.3,437.4 L1267.3,438.0 L1268.3,438.5 L1269.3,439.0 L1270.3,439.6 L1271.3,440.2 L1271.9,440.6 L1272.3,440.9 L1273.3,441.5 L1274.3,442.2 L1275.3,443.0 L1276.3,443.9 L1276.5,444.0 L1277.3,445.0 L1278.3,446.4 L1279.3,447.7 L1279.7,448.1 L1280.3,448.6 L1281.3,449.3 L1282.3,449.9 L1282.4,449.9 L1283.3,450.3 L1284.3,450.7 L1285.3,451.0 L1285.6,451.0 L1286.3,451.0 L1287.3,450.9 L1288.3,450.7 L1289.3,450.4 L1290.2,450.1 L1290.3,450.1 L1291.3,449.7 L1292.3,449.4 L1293.3,449.0 L1294.3,448.7 L1295.2,448.3 L1295.3,448.2 L1296.3,447.7 L1297.3,447.1 L1298.3,446.4 L1299.3,445.8 L1300.3,445.2 L1301.3,444.7 L1301.8,444.5 L1302.3,444.4 L1303.3,444.1 L1304.3,443.8 L1305.3,443.6 L1306.3,443.3 L1307.0,443.1 L1307.3,443.0 L1308.3,442.6 L1309.3,442.2 L1310.3,441.8 L1311.3,441.3 L1312.3,440.8 L1313.3,440.3 L1314.3,439.7 L1315.3,439.0 L1316.2,438.4 L1316.3,438.3 L1317.3,437.4 L1318.3,436.4 L1319.3,435.3 L1320.1,434.5 L1320.3,434.3 L1321.3,433.5 L1322.3,432.7 L1323.3,431.9 L1324.3,430.9 L1324.7,430.5 L1325.3,429.8 L1326.3,428.5 L1327.3,427.1 L1328.3,425.5 L1328.7,425.0 L1329.3,424.0 L1330.3,422.4 L1331.3,420.9 L1331.9,420.2 L1332.3,419.7 L1333.3,418.6 L1334.3,417.7 L1335.2,417.2 L1335.3,417.2 L1336.3,416.8 L1337.3,416.6 L1338.2,416.6 L1338.3,416.6 L1339.3,416.9 L1340.3,417.5 L1341.3,417.9 L1341.8,418.0 L1342.3,418.1 L1343.3,418.1 L1344.3,418.2 L1345.3,418.1 L1345.7,418.1 L1346.3,418.0 L1347.3,417.7 L1348.3,417.2 L1349.3,416.6 L1350.3,416.2 L1351.3,415.8 L1352.3,415.4 L1353.3,415.1 L1354.3,414.6 L1355.3,414.2 L1355.5,414.1 L1356.3,413.8 L1357.3,413.3 L1358.3,412.7 L1359.3,412.2 L1360.3,411.6 L1360.8,411.4 L1361.3,411.1 L1362.3,410.5 L1363.3,410.0 L1364.0,409.8 L1364.3,409.7 L1365.3,409.5 L1366.3,409.3 L1367.3,409.2 L1368.0,409.1 L1368.3,409.1 L1369.3,409.2 L1370.3,409.3 L1371.3,409.5 L1371.9,409.6 L1372.3,409.8 L1373.3,410.2 L1374.3,410.9 L1375.3,411.6 L1375.8,411.9 L1376.3,412.3 L1377.3,413.2 L1378.3,414.0 L1379.3,414.9 L1379.8,415.2 L1380.3,415.6 L1381.3,416.3 L1382.3,417.0 L1383.3,417.6 L1383.7,417.8 L1384.3,418.1 L1385.3,418.5 L1386.3,418.9 L1387.3,419.1 L1387.6,419.2 L1388.3,419.3 L1389.3,419.4 L1390.3,419.5 L1391.3,419.7 L1392.2,419.8 L1392.3,419.8 L1393.3,420.2 L1394.3,420.8 L1395.3,421.5 L1396.2,422.2 L1396.3,422.3 L1397.3,423.3 L1398.3,424.5 L1399.3,425.7 L1399.4,425.8 L1400.3,426.9 L1401.3,428.2 L1402.3,429.4 L1402.7,429.9 L1403.3,430.6 L1404.3,431.7 L1405.3,432.5 L1406.3,433.0 L1407.3,433.4 L1408.3,433.8 L1408.6,434.0 L1409.3,434.6 L1410.3,435.8 L1411.3,437.1 L1411.9,437.8 L1412.3,438.3 L1413.3,439.6 L1414.3,441.0 L1415.3,442.3 L1415.8,442.9 L1416.3,443.5 L1417.3,444.6 L1418.3,445.7 L1419.3,446.7 L1420.3,447.7 L1421.1,448.5 L1421.3,448.7 L1422.3,449.7 L1423.3,450.7 L1424.3,451.7 L1425.3,452.7 L1425.7,453.1 L1426.3,453.7 L1427.3,454.9 L1428.3,456.1 L1429.3,457.2 L1429.8,457.8 L1430.3,458.3 L1431.3,459.3 L1432.3,460.4 L1433.3,461.4 L1434.3,462.4 L1434.4,462.5 L1435.3,463.4 L1436.3,464.2 L1437.3,465.1 L1438.3,466.0 L1439.3,467.0 L1439.7,467.4 L1440.3,468.1 L1441.3,469.4 L1442.3,470.8 L1442.9,471.7 L1443.3,472.3 L1444.3,474.0 L1445.3,475.7 L1446.2,477.0 L1446.3,477.1 L1447.3,478.2 L1448.3,479.1 L1449.3,480.0 L1450.1,480.8 L1450.3,481.0 L1451.3,482.1 L1452.3,483.2 L1453.3,484.2 L1454.1,484.9 L1454.3,485.0 L1455.3,485.6 L1456.3,486.0 L1457.3,486.4 L1458.3,486.9 L1458.7,487.2 L1459.3,487.6 L1460.3,488.6 L1461.3,489.7 L1462.3,490.9 L1462.6,491.2 L1463.3,491.9 L1464.3,492.8 L1465.3,493.8 L1465.9,494.4 L1466.3,494.8 L1467.3,496.1 L1468.3,497.3 L1469.3,498.4 L1469.8,498.9 L1470.3,499.2 L1471.3,499.8 L1472.3,500.2 L1473.3,500.8 L1473.7,501.0 L1474.3,501.5 L1475.3,502.6 L1476.3,503.8 L1477.3,504.9 L1477.7,505.2 L1478.3,505.6 L1479.3,506.1 L1480.3,506.6 L1481.3,507.1 L1481.6,507.3 L1482.3,507.8 L1483.3,508.7 L1484.3,509.6 L1485.3,510.5 L1485.5,510.7 L1486.3,511.5 L1487.3,512.4 L1488.3,513.2 L1489.3,514.0 L1489.5,514.2 L1490.3,514.7 L1491.3,515.4 L1492.1,516.1 L1492.3,516.4 L1493.3,518.0 L1494.1,519.5 L1494.3,519.8 L1495.3,521.5 L1496.0,522.3 L1496.3,522.5 L1497.3,523.2 L1498.3,523.7 L1499.3,524.1 L1499.9,524.4 L1500.3,524.6 L1501.3,525.3 L1502.3,526.0 L1503.2,526.6 L1503.3,526.7 L1504.3,527.5 L1505.3,528.3 L1505.8,528.7 L1506.3,529.1 L1507.3,529.8 L1508.3,530.5 L1509.3,531.1 L1510.3,531.9 L1511.3,532.6 L1512.3,533.4 L1513.3,534.2 L1514.3,535.0 L1515.3,535.8 L1516.3,536.7 L1517.3,537.6 L1518.0,538.4 L1518.3,538.7 L1519.3,540.0 L1520.3,541.5 L1521.3,542.9 L1522.3,544.2 L1523.0,544.9 L1523.3,545.1 L1524.3,545.8 L1525.3,546.3 L1526.3,546.8 L1527.3,547.4 L1528.0,547.9 L1528.3,548.2 L1529.3,549.5 L1530.3,551.1 L1531.3,552.8 L1532.3,554.2 L1533.0,555.0 L1533.3,555.2 L1534.3,555.9 L1535.3,556.5 L1536.3,557.0 L1537.3,557.6 L1538.0,558.2 L1538.3,558.5 L1539.3,559.8 L1540.3,561.5 L1541.3,563.2 L1542.3,564.6 L1543.0,565.1 L1543.3,565.2 L1544.3,565.5 L1545.3,565.6 L1546.3,565.8 L1547.3,566.0 L1548.0,566.3 L1548.3,566.4 L1549.3,567.4 L1550.3,568.7 L1551.3,570.0 L1552.0,570.6 L1552.3,570.8 L1553.3,571.3 L1554.3,571.7 L1555.3,572.1 L1556.3,572.6 L1557.0,573.1 L1557.3,573.4 L1558.3,574.8 L1559.3,576.6 L1560.0,577.6 L1560.3,578.0 L1561.3,579.0 L1562.3,579.8 L1563.3,580.7 L1564.3,581.5 L1565.3,582.5 L1566.0,583.4 L1566.3,583.8 L1567.3,585.7 L1568.3,588.1 L1569.3,590.5 L1570.3,592.8 L1571.0,594.2 L1571.3,594.7 L1572.3,596.1 L1573.3,597.3 L1574.3,598.5 L1575.3,599.9 L1576.0,601.1 L1576.3,601.7 L1577.3,604.0 L1578.3,606.7 L1579.0,608.6 L1579.3,609.5 L1580.3,612.9 L1581.3,616.3 L1582.0,618.0 L1582.3,618.5 L1583.3,620.0 L1584.3,621.2 L1585.3,622.3 L1586.3,623.4 L1587.0,624.3 L1587.3,624.8 L1588.3,626.5 L1589.3,628.3 L1590.3,630.1 L1591.0,631.2 L1591.3,631.8 L1592.3,633.7 L1593.0,634.2 L1593.3,634.2 L1594.3,634.0 L1595.3,633.7 L1596.3,633.3 L1597.3,633.1 L1598.0,633.0 L1598.3,633.1 L1599.3,633.5 L1600.3,634.3 L1601.3,635.2 L1602.0,635.6 L1602.3,635.8 L1603.3,636.1 L1604.3,636.4 L1605.3,636.7 L1606.3,637.2 L1607.0,637.7 L1607.3,638.0 L1608.3,639.8 L1609.3,642.2 L1610.0,643.6 L1610.3,644.1 L1611.3,645.7 L1612.3,647.2 L1613.3,648.6 L1614.3,650.0 L1615.3,651.7 L1616.0,653.0 L1616.3,653.6 L1617.3,656.1 L1618.3,658.9 L1619.3,661.8 L1620.0,663.7 L1620.3,664.5 L1621.3,667.1 L1622.3,669.7 L1623.3,672.2 L1624.3,674.8 L1625.3,677.6 L1626.0,679.6 L1626.3,680.6 L1627.3,683.9 L1628.3,687.3 L1629.3,690.4 L1630.3,693.6 L1631.0,696.0 L1631.3,697.1 L1632.3,700.9 L1633.3,705.0 L1634.3,709.3 L1635.3,713.7 L1636.0,716.8 L1636.3,718.1 L1637.3,722.8 L1638.3,727.6 L1639.3,732.6 L1640.0,736.1 L1640.3,737.6 L1641.3,742.8 L1642.3,748.0 L1642.4,748.6 L1643.3,753.5 L1644.3,759.0 L1645.0,762.5 L1645.3,763.8 L1646.3,768.3 L1647.3,772.2 L1648.0,774.2 L1648.3,774.9 L1649.3,777.0 L1650.0,777.6 L1650.3,777.5 L1651.3,776.3 L1652.3,774.3 L1652.4,774.1 L1653.3,771.0 L1654.3,766.0 L1655.0,762.4 L1655.3,760.9 L1656.3,755.5 L1657.3,750.2 L1658.0,747.1 L1658.3,746.0 L1659.3,742.4 L1660.3,739.4 L1661.0,738.0 L1661.3,737.6 L1662.3,736.1 L1663.3,735.1 L1664.2,734.8 L1664.3,734.8 L1665.3,735.2 L1666.3,735.9 L1667.3,736.9 L1668.0,737.5 L1668.3,737.7 L1669.3,738.7 L1670.3,739.6 L1671.0,740.1 L1671.3,740.3 L1672.3,740.8 L1673.3,741.1 L1674.3,741.6 L1675.0,742.1 L1675.3,742.4 L1676.3,743.6 L1677.3,745.3 L1678.3,747.1 L1679.0,748.4 L1679.3,749.0 L1680.3,750.8 L1681.3,752.6 L1682.3,754.6 L1683.3,756.6 L1684.0,758.0 L1684.3,758.8 L1685.3,761.2 L1686.3,763.7 L1687.3,766.5 L1688.0,768.7 L1688.3,769.7 L1689.3,773.5 L1690.3,777.8 L1691.3,782.4 L1692.0,785.7 L1692.3,786.9 L1693.3,791.2 L1694.3,795.6 L1695.3,800.5 L1696.0,804.2 L1696.3,805.8 L1697.3,811.7 L1698.3,818.4 L1699.0,823.4 L1699.3,825.7 L1700.3,833.1 L1701.0,838.6 L1701.3,841.0 L1702.3,848.7 L1703.0,854.3 L1703.3,857.1 L1704.3,867.3 L1704.6,870.0 L1705.3,879.8 L1706.3,891.7 L1706.5,893.9 L1707.3,905.1 L1708.0,915.3 L1708.3,918.5 L1709.3,927.6 L1710.3,935.3 L1711.3,942.7 L1712.3,949.1 L1712.9,952.3 L1713.3,954.2 L1714.3,958.3 L1715.3,961.8 L1715.6,962.8 L1716.3,964.7 L1717.3,967.0 L1717.8,967.8 L1718.3,968.7 L1719.3,970.2 L1720.2,970.7 L1720.3,970.7 L1721.3,970.1 L1722.3,969.0 L1723.3,967.6 L1724.3,966.0 L1725.3,964.0 L1726.3,961.7 L1727.3,959.3 L1728.3,956.6 L1729.3,953.6 L1730.3,950.5 L1731.3,947.3 L1732.3,944.1 L1733.3,940.8 L1734.3,937.5 L1735.3,934.2 L1736.3,931.1 L1737.3,928.3 L1738.3,925.6 L1739.3,923.0 L1740.3,920.6 L1741.3,918.3 L1741.7,917.5 L1742.3,916.3 L1743.3,914.5 L1744.3,912.8 L1745.3,911.3 L1745.7,910.7 L1746.3,909.9 L1747.3,908.5 L1748.3,907.2 L1749.3,905.9 L1750.3,904.9 L1750.9,904.5 L1751.3,904.2 L1752.3,903.5 L1753.3,902.9 L1754.3,902.5 L1755.3,902.3 L1755.4,902.3 L1756.3,902.4 L1757.3,902.6 L1758.3,902.7 L1759.3,902.8 L1760.0,902.9 L1760.3,902.9 L1761.3,903.0 L1762.3,903.2 L1763.3,903.5 L1764.3,903.9 L1764.6,904.0 L1765.3,904.3 L1766.3,905.0 L1767.3,905.7 L1768.3,906.6 L1769.1,907.4 L1769.3,907.6 L1770.3,909.0 L1771.3,910.8 L1772.3,912.8 L1773.0,914.2 L1773.3,914.9 L1774.3,917.1 L1775.3,919.5 L1776.3,922.1 L1777.3,924.8 L1778.3,927.3 L1778.7,928.3 L1779.3,929.8 L1780.3,932.2 L1781.3,934.7 L1782.3,937.1 L1783.3,939.6 L1784.0,941.2 L1784.3,941.9 L1785.3,944.3 L1786.3,946.6 L1787.3,948.9 L1787.5,949.4 L1795.0,1233.5 L1802.0,1233.5 L1808.6,975.9 L1818.4,1233.5"/>
</g>
<g stroke="#000" stroke-width="4.5" fill="none">
<line x1="243.95" y1="12.6" x2="243.95" y2="1294.35"/>
<line x1="241.7" y1="1292.1" x2="1832.9" y2="1292.1"/>
<line x1="219.0" y1="73.40" x2="243.95" y2="73.40"/>
<line x1="231.7" y1="189.41" x2="243.95" y2="189.41"/>
<line x1="219.0" y1="305.42" x2="243.95" y2="305.42"/>
<line x1="231.7" y1="421.43" x2="243.95" y2="421.43"/>
<line x1="219.0" y1="537.44" x2="243.95" y2="537.44"/>
<line x1="231.7" y1="653.45" x2="243.95" y2="653.45"/>
<line x1="219.0" y1="769.46" x2="243.95" y2="769.46"/>
<line x1="231.7" y1="885.47" x2="243.95" y2="885.47"/>
<line x1="219.0" y1="1001.48" x2="243.95" y2="1001.48"/>
<line x1="231.7" y1="1117.49" x2="243.95" y2="1117.49"/>
<line x1="219.0" y1="1233.50" x2="243.95" y2="1233.50"/>
<line x1="253.50" y1="1292.1" x2="253.50" y2="1316.9"/>
<line x1="450.60" y1="1292.1" x2="450.60" y2="1304.3"/>
<line x1="647.70" y1="1292.1" x2="647.70" y2="1316.9"/>
<line x1="844.80" y1="1292.1" x2="844.80" y2="1304.3"/>
<line x1="1041.90" y1="1292.1" x2="1041.90" y2="1316.9"/>
<line x1="1239.00" y1="1292.1" x2="1239.00" y2="1304.3"/>
<line x1="1436.10" y1="1292.1" x2="1436.10" y2="1316.9"/>
<line x1="1633.20" y1="1292.1" x2="1633.20" y2="1304.3"/>
<line x1="1830.50" y1="1292.1" x2="1830.50" y2="1316.9"/>
</g>
<g font-size="55" text-anchor="end">
<text transform="translate(201.7,89.6) scale(1,1.04)">1 i</text>
<text transform="translate(201.7,205.6) scale(1,1.04)" textLength="102.5" lengthAdjust="spacing">0.9 i</text>
<text transform="translate(201.7,321.6) scale(1,1.04)" textLength="102.5" lengthAdjust="spacing">0.8 i</text>
<text transform="translate(201.7,437.6) scale(1,1.04)" textLength="102.5" lengthAdjust="spacing">0.7 i</text>
<text transform="translate(201.7,553.6) scale(1,1.04)" textLength="102.5" lengthAdjust="spacing">0.6 i</text>
<text transform="translate(201.7,669.6) scale(1,1.04)" textLength="102.5" lengthAdjust="spacing">0.5 i</text>
<text transform="translate(201.7,785.7) scale(1,1.04)" textLength="102.5" lengthAdjust="spacing">0.4 i</text>
<text transform="translate(201.7,901.7) scale(1,1.04)" textLength="102.5" lengthAdjust="spacing">0.3 i</text>
<text transform="translate(201.7,1017.7) scale(1,1.04)" textLength="102.5" lengthAdjust="spacing">0.2 i</text>
<text transform="translate(201.7,1133.7) scale(1,1.04)" textLength="102.5" lengthAdjust="spacing">0.1 i</text>
<text transform="translate(201.7,1249.7) scale(1,1.04)">0 i</text>
</g>
<g font-size="55" text-anchor="end">
<text transform="translate(273.1,1330.5) rotate(-90) scale(1,1.04)" textLength="90" lengthAdjust="spacing">200</text>
<text transform="translate(470.2,1330.5) rotate(-90) scale(1,1.04)" textLength="90" lengthAdjust="spacing">300</text>
<text transform="translate(667.3,1330.5) rotate(-90) scale(1,1.04)" textLength="90" lengthAdjust="spacing">400</text>
<text transform="translate(864.4,1330.5) rotate(-90) scale(1,1.04)" textLength="90" lengthAdjust="spacing">500</text>
<text transform="translate(1061.5,1330.5) rotate(-90) scale(1,1.04)" textLength="90" lengthAdjust="spacing">600</text>
<text transform="translate(1258.6,1330.5) rotate(-90) scale(1,1.04)" textLength="90" lengthAdjust="spacing">700</text>
<text transform="translate(1455.7,1330.5) rotate(-90) scale(1,1.04)" textLength="90" lengthAdjust="spacing">800</text>
<text transform="translate(1652.8,1330.5) rotate(-90) scale(1,1.04)" textLength="90" lengthAdjust="spacing">900</text>
<text transform="translate(1849.9,1330.5) rotate(-90) scale(1,1.04)" textLength="120" lengthAdjust="spacing">1000</text>
</g>
<text x="1039" y="1489.2" font-size="66.67" text-anchor="middle">Wavelength (nm)</text>
<text transform="translate(64,660.8) rotate(-90)" font-size="66.67" text-anchor="middle" textLength="912.5" lengthAdjust="spacing">Standardized intensity (counts)</text>
<rect x="1886.4" y="500.2" width="397.8" height="231.5" fill="#fff" stroke="#000" stroke-width="1.4"/>
<g stroke-width="4.7" stroke-linecap="round" fill="none">
<line x1="1895.2" y1="542.2" x2="2029.9" y2="542.2" stroke="#515151"/>
<line x1="1895.2" y1="616.3" x2="2029.9" y2="616.3" stroke="#F14040"/>
<line x1="1895.2" y1="690.2" x2="2029.9" y2="690.2" stroke="#1A6FDF"/>
</g>
<g font-size="60">
<text x="2046" y="562.4">Baseline</text>
<text x="2046" y="636.6">Test_1</text>
<text x="2046" y="710.5">Test_2</text>
</g>
</svg></body></html>
